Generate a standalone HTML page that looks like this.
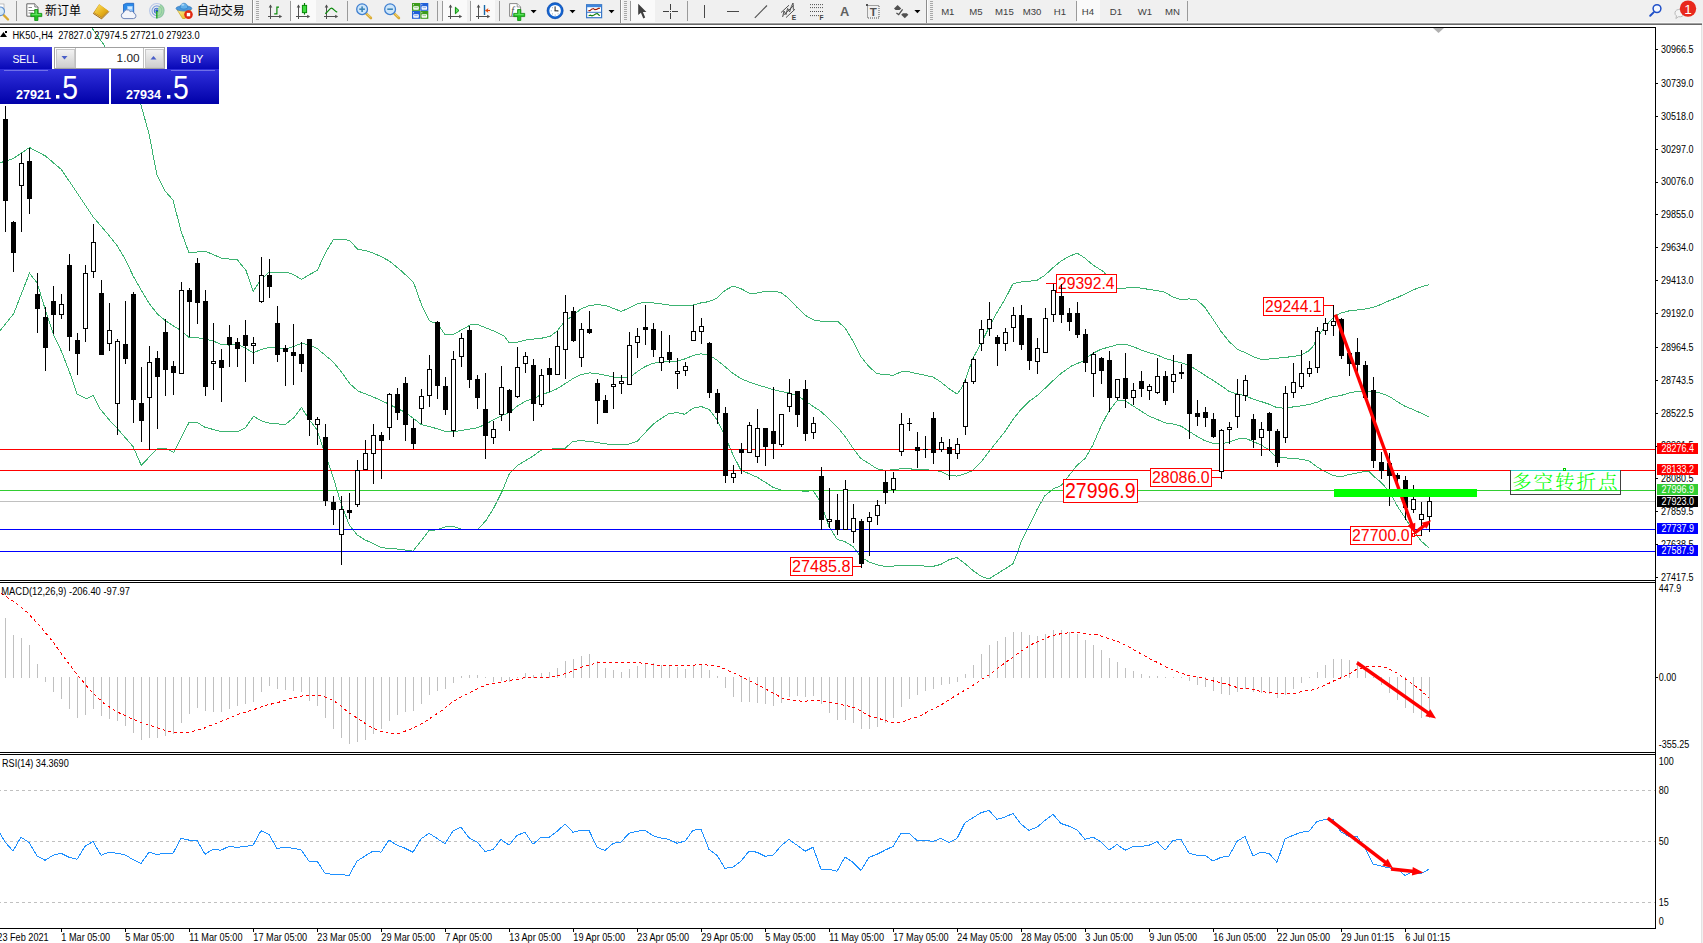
<!DOCTYPE html><html><head><meta charset="utf-8"><title>HK50-,H4</title><style>
html,body{margin:0;padding:0;background:#fff;overflow:hidden}svg{display:block}
text{font-family:"Liberation Sans","Noto Sans CJK SC",sans-serif}
.ax{font-size:10px;fill:#000}.tf{font-size:9.5px;fill:#333}.lb{fill:#f00;font-size:16px}
.cn{font-family:"Liberation Sans","Noto Sans CJK SC",sans-serif;font-size:12px;fill:#000}
</style></head><body>
<svg width="1703" height="943" viewBox="0 0 1703 943">
<defs><linearGradient id="gb" x1="0" y1="0" x2="0" y2="1"><stop offset="0" stop-color="#3c3ce0"/><stop offset="1" stop-color="#0808b8"/></linearGradient>
<linearGradient id="gb2" x1="0" y1="0" x2="0" y2="1"><stop offset="0" stop-color="#3030dc"/><stop offset="1" stop-color="#0000a8"/></linearGradient>
<linearGradient id="gbtn" x1="0" y1="0" x2="0" y2="1"><stop offset="0" stop-color="#f4f4f4"/><stop offset="1" stop-color="#cfcfcf"/></linearGradient>
<radialGradient id="gclk" cx=".4" cy=".35" r=".7"><stop offset="0" stop-color="#6ab0f0"/><stop offset="1" stop-color="#0a4fb0"/></radialGradient>
</defs>
<rect width="1703" height="943" fill="#fff"/>
<g id="toolbar">
<g shape-rendering="crispEdges"><rect x="0" y="0" width="1703" height="22" fill="#f0f0f0"/><rect x="0" y="22" width="1703" height="1" fill="#f8f8f8"/><rect x="0" y="23" width="1703" height="1" fill="#a0a0a0"/><rect x="0" y="24" width="1703" height="1" fill="#696969"/></g>
</g>
<g shape-rendering="crispEdges">
<rect x="0" y="27" width="1656" height="1" fill="#000"/>
<rect x="1655" y="27" width="1" height="902" fill="#000"/>
<rect x="0" y="580" width="1656" height="1" fill="#000"/><rect x="0" y="582" width="1656" height="1" fill="#000"/>
<rect x="0" y="752" width="1656" height="1" fill="#000"/><rect x="0" y="754" width="1656" height="1" fill="#000"/>
<rect x="0" y="928" width="1656" height="1" fill="#000"/>
</g>
<g clip-path="url(#cpm)">
<clipPath id="cpm"><rect x="0" y="28" width="1655" height="552"/></clipPath>
<polyline fill="none" shape-rendering="crispEdges" stroke="#3cb371" stroke-width="1"  points="92,28 104,45 125,80 141,105 149,134 157,175 165,191 173,200 181,231 189,253 197,252 205,251 213,254.5 221,258 229,259 237,259 240,263.3 245.8,269.9 253.2,291.3 261.4,278.9 268.4,272.8 286.9,272.3 291.8,273.7 301.7,279.4 309.1,274.8 317.3,270.4 325.5,252.6 333.4,239.5 345.2,239.5 349.8,240.6 357.6,249.3 365.8,250.5 373.2,253.1 381.4,256.7 389.6,261.2 401.1,270.7 413.5,282.2 421.7,305.2 429.5,320.9 438,324.3 444.8,334.5 453.3,334.5 470.3,325 477.1,324.3 485.5,327.7 494,331.1 504.2,336.2 509.3,343 517.8,342 528,339.6 540.8,338.4 550.2,336.2 557,331.1 565.1,320.9 572.9,315.8 580.7,309 589.2,305.6 597.7,304.6 606.2,305.6 613,308.4 621.5,311.4 628.9,308 637.1,303.9 644.9,302.2 653,302.9 660.8,303.9 669,305 677.1,305.6 684.9,306 693.1,305 700.9,302.9 709,301.6 716.8,298.2 725,290.4 733.1,286 741,288.7 749.1,293.1 756.9,293.1 765.1,291.4 772.9,291 781,292.7 789.2,298.9 797,307.3 805.1,315.1 813,319.8 820.2,321 837.2,321 845,327.8 853.1,341.4 860.9,356.6 869.1,366.8 876.9,373.6 885,374.6 893.2,375.3 901,371.9 909.1,371.9 916.9,373.6 925.1,375.3 932.9,377 941,382.1 949.2,388.9 957,394 961.1,388.9 965.1,380.4 972.9,358.3 981.1,343.1 988.9,327.8 997,312.5 1005.2,298.9 1013,283.7 1021.1,282 1028.9,281.3 1037.1,280.3 1044.9,275.2 1053,267.7 1061.2,260.9 1069,256.5 1077.1,253.1 1085.1,258.2 1092.9,265 1103.8,271.8 1108.9,278.6 1117,288.8 1125.1,288.1 1133,287.1 1141.1,288.1 1148.9,289.4 1157.1,290.5 1164.9,292.2 1173,297.2 1181.2,299.6 1189,298.9 1197.1,300 1204.9,307.4 1213.1,319.3 1220.9,331.2 1229,341.4 1237.2,349.2 1245,352.6 1253.1,356.6 1260.9,359.4 1269.1,359 1276.9,358.3 1285,357.3 1293.2,356.6 1301,355 1309.2,350.6 1313.8,345.4 1316.9,337.7 1324.9,326.9 1333.4,317.4 1340.9,313.1 1348.9,310.9 1356.9,310 1364.9,309.1 1372.9,307.5 1380.9,304.5 1388.9,300.8 1396.9,297.7 1404.9,294 1412.9,290 1420.9,286.9 1428.9,284.8"/>
<polyline fill="none" shape-rendering="crispEdges" stroke="#3cb371" stroke-width="1"  points="0,162.8 13.6,158.4 29.5,147.5 45.5,156 61.4,169.6 77.4,193.3 93.3,217.1 109.3,235.8 117.4,246 125.3,259.5 133.4,276.5 141.2,290.1 149.4,303.7 157.2,313.8 165.3,320.6 173.1,325.7 181.3,330.8 189.4,337.6 197.2,337.6 205.4,339.3 213.2,341 221.3,344.4 229.1,345.1 237.3,344.4 245.1,347.8 253.2,352.9 261,349.5 269.6,347.4 275.8,347.4 285.3,349.4 293.8,346.4 301.6,343.3 310.7,345.4 317.5,348.8 332.8,361.6 341.3,371.8 349.8,383.7 358.3,391.2 371.8,396.3 388.8,404.1 405.8,412.6 421.1,424.4 436.3,428.5 444.8,431.2 453.3,431.9 470.3,428.9 477.1,427.8 485.5,424.4 494,419.4 500.8,416 509.3,412.6 517.8,405.8 526.3,400.7 533.1,399 540.8,394.7 549.2,392.2 557,388.8 565.1,383.7 572.9,378.6 581.1,374.5 589.2,372.9 597,373.5 604.8,375.2 613,376.9 621.1,377.9 628.9,377.9 637.1,371.8 644.9,366.7 653,363.3 660.8,362.3 669,361.6 677.1,361 684.9,358.9 693.1,355.5 700.9,353.8 709,354.9 716.8,360 725,366.7 733.1,373.5 741,378.6 749.1,382 756.9,384.7 765.1,387.1 772.9,389.5 781,391.5 789.2,392.9 797,395.6 805.1,400.7 813,406.3 820.2,411 829,418.8 837.2,426.9 845,436.4 853.1,448.3 860.9,458.5 869.1,463.6 876.9,468.7 885,470.4 893.2,469.7 901,468.7 909.1,468.7 916.9,469.7 925.1,469.7 932.9,470.4 941,471.4 949.2,475.5 957,476.1 965.1,473.8 972.9,470.4 981.1,461.9 988.9,451.7 997,441.5 1005.2,431.3 1013,419.4 1021.1,409.3 1028.9,401.5 1038.5,394.6 1050.6,382.9 1061.2,373.3 1071.8,365.9 1082.4,361.3 1092.9,353.3 1101,349.2 1108.9,347.1 1117,344.8 1125.1,344.1 1133,346.5 1141.1,349.9 1148.9,352.6 1157.1,355 1164.9,358.3 1173,360.7 1181.2,362.8 1189,365.1 1197.1,370.2 1204.9,375.3 1213.1,380.4 1220.9,385.5 1229,391.3 1237.2,394 1245,395.7 1253.1,399.1 1260.9,401.5 1269.1,404.2 1276.9,407.6 1285,408.2 1293.2,406.9 1301,405.9 1308.9,404.5 1316.9,402.3 1324.9,399.2 1332.9,396.8 1340.9,395.5 1348.9,393.1 1356.9,391.5 1364.9,391.5 1372.9,391.5 1380.9,393.1 1388.9,396.2 1396.9,401.4 1404.9,406.3 1412.9,409.4 1420.9,413.1 1428.9,416.8"/>
<polyline fill="none" shape-rendering="crispEdges" stroke="#3cb371" stroke-width="1"  points="0,330.8 13.6,313.8 29.5,273.1 37.3,283.3 45.5,310.5 53.3,334.2 61.4,351.2 70.9,375.8 77,394 86.3,398.7 93.3,395.2 100.3,409.2 111,422 116.7,427.8 133,446.5 141.2,465.2 149.3,457 157.5,448.4 165.7,448.4 173.8,452.3 181,438 189,422.5 197.2,422.5 205.3,427.4 220.5,431.3 238,431.3 245,428.3 253.6,416.2 261.3,420.8 270,423.4 285.3,424.4 293.8,417.7 301.6,407.5 309,419.4 316.8,429.5 325,453.3 333.1,477.1 341.3,504.2 349.1,524.6 356.9,534.8 365,539.9 372.9,543.3 381,547.7 389.1,548.3 397,549 405.1,550 412.9,551.1 421.1,540.9 428.9,530.7 437,529.7 445.2,527 453,526.3 461.1,529 468.9,529.7 477.1,529.7 485.5,521.2 494,507.6 502.5,490.6 509.3,473.7 517.8,465.2 526.3,460.1 533.1,456 541.6,449.9 553.6,448.9 565.1,448.2 572.9,441.4 581.1,440.7 589.2,441.4 597,442.4 604.8,443.8 613,444.5 621.1,444.5 628.9,444.1 637.1,441.4 644.9,432.9 653,424.4 660.8,418.7 669,413.6 677.1,412.6 684.9,414.3 693.1,408.2 700.9,406.5 709,409.2 716.8,419.4 725,436.3 733.1,455 741,470.3 749.1,473.7 756.9,477.1 765.1,482.2 772.9,487.2 781,490 789.2,490.6 797,490.6 805.1,491.3 813.2,490.7 820.9,502.6 829,526.4 837.2,539.6 845,541.6 853.1,546.7 860.9,556.9 869.1,562 876.9,564.7 885,566.4 893.2,566.1 901,565.4 909.1,565.4 916.9,565.4 925.1,566.1 932.9,566.4 941,564.4 949.2,559.6 957,557.6 965.1,563.7 972.9,570.5 981.1,576.3 988.9,579 997,573.9 1005.2,568.8 1013,563.7 1017.1,553.5 1021.1,541.6 1028.9,526.4 1037.1,509.4 1044.9,495.8 1053,489 1061.2,485.6 1069,475.5 1077.1,465.3 1085.1,458.5 1092.9,444.9 1101,426.2 1108.9,411 1117,400.8 1125.1,400.8 1133,405.9 1141.1,411 1148.9,416.1 1157.1,419.4 1164.9,422.8 1173,423.9 1181.2,426.2 1189,431.3 1197.1,436.4 1204.9,440.8 1213.1,443.2 1220.9,443.9 1229,442.2 1237.2,439.1 1245,438.1 1253.1,441.5 1260.9,444.9 1269.1,450 1276.9,457.8 1285,457.8 1293.2,458.5 1301,459.2 1308.9,460.8 1316.9,466.9 1324.9,471.5 1332.9,475.5 1340.9,476.8 1348.9,474.6 1356.9,473.1 1364.9,471.5 1369.2,471.5 1372.9,475.5 1380.9,482.3 1388.9,490.9 1396.9,505.4 1404.9,517.7 1412.9,530 1420.9,540.8 1428.9,547.8"/>
<g shape-rendering="crispEdges">
<rect x="0" y="449" width="1655" height="1" fill="#f00"/>
<rect x="0" y="470" width="1655" height="1" fill="#f00"/>
<rect x="0" y="490" width="1655" height="1" fill="#32cd32"/>
<rect x="0" y="501" width="1655" height="1" fill="#c0c0c0"/>
<rect x="0" y="529" width="1655" height="1" fill="#00f"/>
<rect x="0" y="551" width="1655" height="1" fill="#00f"/>
</g>
<rect x="1056.5" y="274.5" width="60" height="18" fill="#fff" stroke="#f00" stroke-width="1" shape-rendering="crispEdges"/>
<text x="1058" y="288.9" font-size="16.324" fill="#f00" textLength="56.5" lengthAdjust="spacingAndGlyphs">29392.4</text>
<rect x="1046" y="283" width="10" height="1" fill="#f00"/>
<rect x="1263.5" y="297.5" width="60" height="18" fill="#fff" stroke="#f00" stroke-width="1" shape-rendering="crispEdges"/>
<text x="1265" y="311.9" font-size="16.324" fill="#f00" textLength="56.5" lengthAdjust="spacingAndGlyphs">29244.1</text>
<rect x="1323" y="305" width="11" height="1" fill="#f00"/><rect x="1333" y="305" width="1" height="8" fill="#f00"/>
<rect x="1150.5" y="468.5" width="61" height="18" fill="#fff" stroke="#f00" stroke-width="1" shape-rendering="crispEdges"/>
<text x="1152" y="482.9" font-size="16.324" fill="#f00" textLength="57.5" lengthAdjust="spacingAndGlyphs">28086.0</text>
<rect x="1211" y="477" width="10" height="1" fill="#f00"/>
<rect x="1063.5" y="479.5" width="74" height="23" fill="#fff" stroke="#f00" stroke-width="1" shape-rendering="crispEdges"/>
<text x="1065" y="498.3" font-size="21.73" fill="#f00" textLength="70.5" lengthAdjust="spacingAndGlyphs">27996.9</text>
<rect x="790.5" y="557.5" width="62" height="18" fill="#fff" stroke="#f00" stroke-width="1" shape-rendering="crispEdges"/>
<text x="792" y="571.9" font-size="16.324" fill="#f00" textLength="58.5" lengthAdjust="spacingAndGlyphs">27485.8</text>
<rect x="852" y="566" width="9" height="1" fill="#f00"/>
<rect x="1350.5" y="526.5" width="61" height="18" fill="#fff" stroke="#f00" stroke-width="1" shape-rendering="crispEdges"/>
<text x="1352" y="540.9" font-size="16.324" fill="#f00" textLength="57.5" lengthAdjust="spacingAndGlyphs">27700.0</text>
<rect x="1412.5" y="533.5" width="2" height="3" fill="#fff" stroke="#f00" stroke-width="1" shape-rendering="crispEdges"/><rect x="1414" y="535" width="8" height="1" fill="#f00" shape-rendering="crispEdges"/>
<g shape-rendering="crispEdges">
<rect x="5" y="106" width="1" height="126" fill="#000"/>
<rect x="3" y="119" width="5" height="82" fill="#000"/>
<rect x="13" y="221" width="1" height="51" fill="#000"/>
<rect x="11" y="222" width="5" height="31" fill="#000"/>
<rect x="21" y="153" width="1" height="79" fill="#000"/>
<rect x="19" y="163" width="5" height="23" fill="#000"/>
<rect x="20" y="164" width="3" height="21" fill="#fff"/>
<rect x="29" y="148" width="1" height="66" fill="#000"/>
<rect x="27" y="161" width="5" height="38" fill="#000"/>
<rect x="37" y="273" width="1" height="60" fill="#000"/>
<rect x="35" y="294" width="5" height="15" fill="#000"/>
<rect x="45" y="307" width="1" height="64" fill="#000"/>
<rect x="43" y="317" width="5" height="31" fill="#000"/>
<rect x="53" y="286" width="1" height="48" fill="#000"/>
<rect x="51" y="301" width="5" height="14" fill="#000"/>
<rect x="61" y="294" width="1" height="25" fill="#000"/>
<rect x="59" y="304" width="5" height="11" fill="#000"/>
<rect x="60" y="305" width="3" height="9" fill="#fff"/>
<rect x="69" y="254" width="1" height="97" fill="#000"/>
<rect x="67" y="265" width="5" height="72" fill="#000"/>
<rect x="77" y="333" width="1" height="42" fill="#000"/>
<rect x="75" y="340" width="5" height="14" fill="#000"/>
<rect x="85" y="265" width="1" height="77" fill="#000"/>
<rect x="83" y="273" width="5" height="56" fill="#000"/>
<rect x="84" y="274" width="3" height="54" fill="#fff"/>
<rect x="93" y="224" width="1" height="54" fill="#000"/>
<rect x="91" y="242" width="5" height="30" fill="#000"/>
<rect x="92" y="243" width="3" height="28" fill="#fff"/>
<rect x="101" y="280" width="1" height="75" fill="#000"/>
<rect x="99" y="293" width="5" height="62" fill="#000"/>
<rect x="109" y="303" width="1" height="48" fill="#000"/>
<rect x="107" y="330" width="5" height="14" fill="#000"/>
<rect x="108" y="331" width="3" height="12" fill="#fff"/>
<rect x="117" y="339" width="1" height="96" fill="#000"/>
<rect x="115" y="341" width="5" height="63" fill="#000"/>
<rect x="116" y="342" width="3" height="61" fill="#fff"/>
<rect x="125" y="301" width="1" height="63" fill="#000"/>
<rect x="123" y="344" width="5" height="15" fill="#000"/>
<rect x="133" y="292" width="1" height="131" fill="#000"/>
<rect x="131" y="294" width="5" height="106" fill="#000"/>
<rect x="141" y="367" width="1" height="75" fill="#000"/>
<rect x="139" y="403" width="5" height="18" fill="#000"/>
<rect x="149" y="346" width="1" height="104" fill="#000"/>
<rect x="147" y="362" width="5" height="36" fill="#000"/>
<rect x="148" y="363" width="3" height="34" fill="#fff"/>
<rect x="157" y="351" width="1" height="78" fill="#000"/>
<rect x="155" y="358" width="5" height="19" fill="#000"/>
<rect x="165" y="319" width="1" height="77" fill="#000"/>
<rect x="163" y="332" width="5" height="38" fill="#000"/>
<rect x="173" y="361" width="1" height="34" fill="#000"/>
<rect x="171" y="366" width="5" height="7" fill="#000"/>
<rect x="181" y="282" width="1" height="92" fill="#000"/>
<rect x="179" y="290" width="5" height="84" fill="#000"/>
<rect x="180" y="291" width="3" height="82" fill="#fff"/>
<rect x="189" y="288" width="1" height="49" fill="#000"/>
<rect x="187" y="290" width="5" height="12" fill="#000"/>
<rect x="197" y="258" width="1" height="66" fill="#000"/>
<rect x="195" y="263" width="5" height="40" fill="#000"/>
<rect x="205" y="290" width="1" height="106" fill="#000"/>
<rect x="203" y="301" width="5" height="86" fill="#000"/>
<rect x="213" y="323" width="1" height="67" fill="#000"/>
<rect x="211" y="361" width="5" height="3" fill="#000"/>
<rect x="212" y="362" width="3" height="1" fill="#fff"/>
<rect x="221" y="349" width="1" height="53" fill="#000"/>
<rect x="219" y="360" width="5" height="8" fill="#000"/>
<rect x="229" y="325" width="1" height="42" fill="#000"/>
<rect x="227" y="337" width="5" height="8" fill="#000"/>
<rect x="237" y="338" width="1" height="29" fill="#000"/>
<rect x="235" y="342" width="5" height="7" fill="#000"/>
<rect x="245" y="320" width="1" height="62" fill="#000"/>
<rect x="243" y="335" width="5" height="11" fill="#000"/>
<rect x="253" y="337" width="1" height="27" fill="#000"/>
<rect x="251" y="343" width="5" height="3" fill="#000"/>
<rect x="252" y="344" width="3" height="1" fill="#fff"/>
<rect x="261" y="257" width="1" height="46" fill="#000"/>
<rect x="259" y="275" width="5" height="27" fill="#000"/>
<rect x="260" y="276" width="3" height="25" fill="#fff"/>
<rect x="269" y="259" width="1" height="39" fill="#000"/>
<rect x="267" y="275" width="5" height="12" fill="#000"/>
<rect x="277" y="306" width="1" height="56" fill="#000"/>
<rect x="275" y="323" width="5" height="32" fill="#000"/>
<rect x="285" y="345" width="1" height="41" fill="#000"/>
<rect x="283" y="348" width="5" height="4" fill="#000"/>
<rect x="293" y="324" width="1" height="61" fill="#000"/>
<rect x="291" y="352" width="5" height="4" fill="#000"/>
<rect x="301" y="342" width="1" height="30" fill="#000"/>
<rect x="299" y="354" width="5" height="10" fill="#000"/>
<rect x="309" y="339" width="1" height="97" fill="#000"/>
<rect x="307" y="339" width="5" height="81" fill="#000"/>
<rect x="317" y="417" width="1" height="28" fill="#000"/>
<rect x="315" y="419" width="5" height="6" fill="#000"/>
<rect x="316" y="420" width="3" height="4" fill="#fff"/>
<rect x="325" y="424" width="1" height="82" fill="#000"/>
<rect x="323" y="437" width="5" height="64" fill="#000"/>
<rect x="333" y="496" width="1" height="29" fill="#000"/>
<rect x="331" y="502" width="5" height="8" fill="#000"/>
<rect x="341" y="496" width="1" height="69" fill="#000"/>
<rect x="339" y="509" width="5" height="26" fill="#000"/>
<rect x="340" y="510" width="3" height="24" fill="#fff"/>
<rect x="349" y="493" width="1" height="26" fill="#000"/>
<rect x="347" y="510" width="5" height="3" fill="#000"/>
<rect x="357" y="460" width="1" height="47" fill="#000"/>
<rect x="355" y="470" width="5" height="35" fill="#000"/>
<rect x="356" y="471" width="3" height="33" fill="#fff"/>
<rect x="365" y="440" width="1" height="30" fill="#000"/>
<rect x="363" y="453" width="5" height="17" fill="#000"/>
<rect x="364" y="454" width="3" height="15" fill="#fff"/>
<rect x="373" y="424" width="1" height="60" fill="#000"/>
<rect x="371" y="435" width="5" height="19" fill="#000"/>
<rect x="372" y="436" width="3" height="17" fill="#fff"/>
<rect x="381" y="432" width="1" height="47" fill="#000"/>
<rect x="379" y="435" width="5" height="6" fill="#000"/>
<rect x="389" y="393" width="1" height="47" fill="#000"/>
<rect x="387" y="394" width="5" height="34" fill="#000"/>
<rect x="388" y="395" width="3" height="32" fill="#fff"/>
<rect x="397" y="388" width="1" height="32" fill="#000"/>
<rect x="395" y="394" width="5" height="19" fill="#000"/>
<rect x="405" y="377" width="1" height="64" fill="#000"/>
<rect x="403" y="383" width="5" height="42" fill="#000"/>
<rect x="413" y="419" width="1" height="30" fill="#000"/>
<rect x="411" y="428" width="5" height="16" fill="#000"/>
<rect x="421" y="389" width="1" height="35" fill="#000"/>
<rect x="419" y="396" width="5" height="13" fill="#000"/>
<rect x="420" y="397" width="3" height="11" fill="#fff"/>
<rect x="429" y="355" width="1" height="52" fill="#000"/>
<rect x="427" y="369" width="5" height="27" fill="#000"/>
<rect x="428" y="370" width="3" height="25" fill="#fff"/>
<rect x="437" y="321" width="1" height="78" fill="#000"/>
<rect x="435" y="322" width="5" height="64" fill="#000"/>
<rect x="445" y="377" width="1" height="38" fill="#000"/>
<rect x="443" y="386" width="5" height="24" fill="#000"/>
<rect x="453" y="351" width="1" height="86" fill="#000"/>
<rect x="451" y="359" width="5" height="72" fill="#000"/>
<rect x="452" y="360" width="3" height="70" fill="#fff"/>
<rect x="461" y="333" width="1" height="34" fill="#000"/>
<rect x="459" y="338" width="5" height="19" fill="#000"/>
<rect x="460" y="339" width="3" height="17" fill="#fff"/>
<rect x="469" y="326" width="1" height="62" fill="#000"/>
<rect x="467" y="330" width="5" height="50" fill="#000"/>
<rect x="477" y="375" width="1" height="34" fill="#000"/>
<rect x="475" y="379" width="5" height="19" fill="#000"/>
<rect x="485" y="373" width="1" height="86" fill="#000"/>
<rect x="483" y="409" width="5" height="27" fill="#000"/>
<rect x="493" y="421" width="1" height="23" fill="#000"/>
<rect x="491" y="429" width="5" height="9" fill="#000"/>
<rect x="492" y="430" width="3" height="7" fill="#fff"/>
<rect x="501" y="366" width="1" height="55" fill="#000"/>
<rect x="499" y="387" width="5" height="28" fill="#000"/>
<rect x="500" y="388" width="3" height="26" fill="#fff"/>
<rect x="509" y="389" width="1" height="42" fill="#000"/>
<rect x="507" y="390" width="5" height="23" fill="#000"/>
<rect x="517" y="347" width="1" height="51" fill="#000"/>
<rect x="515" y="367" width="5" height="30" fill="#000"/>
<rect x="516" y="368" width="3" height="28" fill="#fff"/>
<rect x="525" y="352" width="1" height="21" fill="#000"/>
<rect x="523" y="356" width="5" height="8" fill="#000"/>
<rect x="524" y="357" width="3" height="6" fill="#fff"/>
<rect x="533" y="359" width="1" height="62" fill="#000"/>
<rect x="531" y="365" width="5" height="39" fill="#000"/>
<rect x="541" y="369" width="1" height="38" fill="#000"/>
<rect x="539" y="375" width="5" height="30" fill="#000"/>
<rect x="540" y="376" width="3" height="28" fill="#fff"/>
<rect x="549" y="358" width="1" height="34" fill="#000"/>
<rect x="547" y="368" width="5" height="7" fill="#000"/>
<rect x="557" y="331" width="1" height="44" fill="#000"/>
<rect x="555" y="346" width="5" height="29" fill="#000"/>
<rect x="556" y="347" width="3" height="27" fill="#fff"/>
<rect x="565" y="295" width="1" height="84" fill="#000"/>
<rect x="563" y="312" width="5" height="38" fill="#000"/>
<rect x="564" y="313" width="3" height="36" fill="#fff"/>
<rect x="573" y="307" width="1" height="35" fill="#000"/>
<rect x="571" y="311" width="5" height="30" fill="#000"/>
<rect x="581" y="323" width="1" height="44" fill="#000"/>
<rect x="579" y="329" width="5" height="29" fill="#000"/>
<rect x="580" y="330" width="3" height="27" fill="#fff"/>
<rect x="589" y="311" width="1" height="23" fill="#000"/>
<rect x="587" y="329" width="5" height="4" fill="#000"/>
<rect x="597" y="379" width="1" height="45" fill="#000"/>
<rect x="595" y="383" width="5" height="18" fill="#000"/>
<rect x="605" y="395" width="1" height="18" fill="#000"/>
<rect x="603" y="400" width="5" height="13" fill="#000"/>
<rect x="613" y="372" width="1" height="37" fill="#000"/>
<rect x="611" y="384" width="5" height="3" fill="#000"/>
<rect x="612" y="385" width="3" height="1" fill="#fff"/>
<rect x="621" y="375" width="1" height="19" fill="#000"/>
<rect x="619" y="381" width="5" height="3" fill="#000"/>
<rect x="620" y="382" width="3" height="1" fill="#fff"/>
<rect x="629" y="332" width="1" height="53" fill="#000"/>
<rect x="627" y="345" width="5" height="40" fill="#000"/>
<rect x="628" y="346" width="3" height="38" fill="#fff"/>
<rect x="637" y="328" width="1" height="30" fill="#000"/>
<rect x="635" y="336" width="5" height="7" fill="#000"/>
<rect x="636" y="337" width="3" height="5" fill="#fff"/>
<rect x="645" y="305" width="1" height="40" fill="#000"/>
<rect x="643" y="327" width="5" height="3" fill="#000"/>
<rect x="653" y="323" width="1" height="34" fill="#000"/>
<rect x="651" y="329" width="5" height="21" fill="#000"/>
<rect x="661" y="331" width="1" height="40" fill="#000"/>
<rect x="659" y="357" width="5" height="6" fill="#000"/>
<rect x="660" y="358" width="3" height="4" fill="#fff"/>
<rect x="669" y="335" width="1" height="28" fill="#000"/>
<rect x="667" y="352" width="5" height="8" fill="#000"/>
<rect x="677" y="358" width="1" height="31" fill="#000"/>
<rect x="675" y="371" width="5" height="3" fill="#000"/>
<rect x="676" y="372" width="3" height="1" fill="#fff"/>
<rect x="685" y="362" width="1" height="14" fill="#000"/>
<rect x="683" y="366" width="5" height="5" fill="#000"/>
<rect x="684" y="367" width="3" height="3" fill="#fff"/>
<rect x="693" y="305" width="1" height="36" fill="#000"/>
<rect x="691" y="331" width="5" height="10" fill="#000"/>
<rect x="692" y="332" width="3" height="8" fill="#fff"/>
<rect x="701" y="318" width="1" height="26" fill="#000"/>
<rect x="699" y="326" width="5" height="6" fill="#000"/>
<rect x="700" y="327" width="3" height="4" fill="#fff"/>
<rect x="709" y="342" width="1" height="56" fill="#000"/>
<rect x="707" y="343" width="5" height="50" fill="#000"/>
<rect x="717" y="389" width="1" height="35" fill="#000"/>
<rect x="715" y="393" width="5" height="20" fill="#000"/>
<rect x="725" y="407" width="1" height="76" fill="#000"/>
<rect x="723" y="413" width="5" height="63" fill="#000"/>
<rect x="733" y="465" width="1" height="18" fill="#000"/>
<rect x="731" y="473" width="5" height="5" fill="#000"/>
<rect x="732" y="474" width="3" height="3" fill="#fff"/>
<rect x="741" y="443" width="1" height="31" fill="#000"/>
<rect x="739" y="449" width="5" height="4" fill="#000"/>
<rect x="749" y="422" width="1" height="31" fill="#000"/>
<rect x="747" y="425" width="5" height="28" fill="#000"/>
<rect x="748" y="426" width="3" height="26" fill="#fff"/>
<rect x="757" y="409" width="1" height="54" fill="#000"/>
<rect x="755" y="428" width="5" height="29" fill="#000"/>
<rect x="756" y="429" width="3" height="27" fill="#fff"/>
<rect x="765" y="428" width="1" height="38" fill="#000"/>
<rect x="763" y="428" width="5" height="19" fill="#000"/>
<rect x="773" y="387" width="1" height="72" fill="#000"/>
<rect x="771" y="431" width="5" height="13" fill="#000"/>
<rect x="781" y="414" width="1" height="33" fill="#000"/>
<rect x="779" y="414" width="5" height="31" fill="#000"/>
<rect x="780" y="415" width="3" height="29" fill="#fff"/>
<rect x="789" y="379" width="1" height="33" fill="#000"/>
<rect x="787" y="393" width="5" height="14" fill="#000"/>
<rect x="788" y="394" width="3" height="12" fill="#fff"/>
<rect x="797" y="391" width="1" height="36" fill="#000"/>
<rect x="795" y="391" width="5" height="24" fill="#000"/>
<rect x="805" y="380" width="1" height="61" fill="#000"/>
<rect x="803" y="389" width="5" height="45" fill="#000"/>
<rect x="813" y="417" width="1" height="22" fill="#000"/>
<rect x="811" y="423" width="5" height="10" fill="#000"/>
<rect x="812" y="424" width="3" height="8" fill="#fff"/>
<rect x="821" y="467" width="1" height="63" fill="#000"/>
<rect x="819" y="476" width="5" height="44" fill="#000"/>
<rect x="829" y="488" width="1" height="40" fill="#000"/>
<rect x="827" y="519" width="5" height="3" fill="#000"/>
<rect x="828" y="520" width="3" height="1" fill="#fff"/>
<rect x="837" y="494" width="1" height="41" fill="#000"/>
<rect x="835" y="520" width="5" height="10" fill="#000"/>
<rect x="845" y="480" width="1" height="50" fill="#000"/>
<rect x="843" y="489" width="5" height="41" fill="#000"/>
<rect x="844" y="490" width="3" height="39" fill="#fff"/>
<rect x="853" y="504" width="1" height="39" fill="#000"/>
<rect x="851" y="518" width="5" height="14" fill="#000"/>
<rect x="852" y="519" width="3" height="12" fill="#fff"/>
<rect x="861" y="519" width="1" height="49" fill="#000"/>
<rect x="859" y="521" width="5" height="43" fill="#000"/>
<rect x="869" y="512" width="1" height="44" fill="#000"/>
<rect x="867" y="517" width="5" height="5" fill="#000"/>
<rect x="868" y="518" width="3" height="3" fill="#fff"/>
<rect x="877" y="500" width="1" height="25" fill="#000"/>
<rect x="875" y="505" width="5" height="11" fill="#000"/>
<rect x="876" y="506" width="3" height="9" fill="#fff"/>
<rect x="885" y="471" width="1" height="33" fill="#000"/>
<rect x="883" y="482" width="5" height="11" fill="#000"/>
<rect x="893" y="472" width="1" height="21" fill="#000"/>
<rect x="891" y="478" width="5" height="12" fill="#000"/>
<rect x="892" y="479" width="3" height="10" fill="#fff"/>
<rect x="901" y="413" width="1" height="43" fill="#000"/>
<rect x="899" y="424" width="5" height="28" fill="#000"/>
<rect x="900" y="425" width="3" height="26" fill="#fff"/>
<rect x="909" y="418" width="1" height="13" fill="#000"/>
<rect x="907" y="423" width="5" height="1" fill="#000"/>
<rect x="917" y="432" width="1" height="36" fill="#000"/>
<rect x="915" y="447" width="5" height="4" fill="#000"/>
<rect x="925" y="436" width="1" height="22" fill="#000"/>
<rect x="923" y="449" width="5" height="1" fill="#000"/>
<rect x="933" y="412" width="1" height="52" fill="#000"/>
<rect x="931" y="418" width="5" height="35" fill="#000"/>
<rect x="941" y="437" width="1" height="15" fill="#000"/>
<rect x="939" y="442" width="5" height="8" fill="#000"/>
<rect x="940" y="443" width="3" height="6" fill="#fff"/>
<rect x="949" y="439" width="1" height="41" fill="#000"/>
<rect x="947" y="447" width="5" height="7" fill="#000"/>
<rect x="957" y="438" width="1" height="21" fill="#000"/>
<rect x="955" y="444" width="5" height="10" fill="#000"/>
<rect x="956" y="445" width="3" height="8" fill="#fff"/>
<rect x="965" y="379" width="1" height="56" fill="#000"/>
<rect x="963" y="382" width="5" height="45" fill="#000"/>
<rect x="964" y="383" width="3" height="43" fill="#fff"/>
<rect x="973" y="357" width="1" height="27" fill="#000"/>
<rect x="971" y="359" width="5" height="23" fill="#000"/>
<rect x="972" y="360" width="3" height="21" fill="#fff"/>
<rect x="981" y="320" width="1" height="31" fill="#000"/>
<rect x="979" y="329" width="5" height="15" fill="#000"/>
<rect x="980" y="330" width="3" height="13" fill="#fff"/>
<rect x="989" y="302" width="1" height="34" fill="#000"/>
<rect x="987" y="319" width="5" height="10" fill="#000"/>
<rect x="988" y="320" width="3" height="8" fill="#fff"/>
<rect x="997" y="335" width="1" height="31" fill="#000"/>
<rect x="995" y="337" width="5" height="7" fill="#000"/>
<rect x="1005" y="328" width="1" height="23" fill="#000"/>
<rect x="1003" y="332" width="5" height="12" fill="#000"/>
<rect x="1004" y="333" width="3" height="10" fill="#fff"/>
<rect x="1013" y="307" width="1" height="35" fill="#000"/>
<rect x="1011" y="315" width="5" height="13" fill="#000"/>
<rect x="1012" y="316" width="3" height="11" fill="#fff"/>
<rect x="1021" y="305" width="1" height="45" fill="#000"/>
<rect x="1019" y="315" width="5" height="30" fill="#000"/>
<rect x="1029" y="318" width="1" height="52" fill="#000"/>
<rect x="1027" y="318" width="5" height="43" fill="#000"/>
<rect x="1037" y="338" width="1" height="36" fill="#000"/>
<rect x="1035" y="348" width="5" height="14" fill="#000"/>
<rect x="1036" y="349" width="3" height="12" fill="#fff"/>
<rect x="1045" y="308" width="1" height="45" fill="#000"/>
<rect x="1043" y="318" width="5" height="35" fill="#000"/>
<rect x="1044" y="319" width="3" height="33" fill="#fff"/>
<rect x="1053" y="284" width="1" height="38" fill="#000"/>
<rect x="1051" y="290" width="5" height="25" fill="#000"/>
<rect x="1052" y="291" width="3" height="23" fill="#fff"/>
<rect x="1061" y="284" width="1" height="39" fill="#000"/>
<rect x="1059" y="296" width="5" height="19" fill="#000"/>
<rect x="1069" y="308" width="1" height="23" fill="#000"/>
<rect x="1067" y="313" width="5" height="9" fill="#000"/>
<rect x="1077" y="302" width="1" height="36" fill="#000"/>
<rect x="1075" y="313" width="5" height="22" fill="#000"/>
<rect x="1085" y="329" width="1" height="43" fill="#000"/>
<rect x="1083" y="334" width="5" height="29" fill="#000"/>
<rect x="1093" y="352" width="1" height="45" fill="#000"/>
<rect x="1091" y="354" width="5" height="20" fill="#000"/>
<rect x="1092" y="355" width="3" height="18" fill="#fff"/>
<rect x="1101" y="357" width="1" height="27" fill="#000"/>
<rect x="1099" y="358" width="5" height="13" fill="#000"/>
<rect x="1109" y="351" width="1" height="61" fill="#000"/>
<rect x="1107" y="360" width="5" height="38" fill="#000"/>
<rect x="1117" y="379" width="1" height="21" fill="#000"/>
<rect x="1115" y="379" width="5" height="19" fill="#000"/>
<rect x="1116" y="380" width="3" height="17" fill="#fff"/>
<rect x="1125" y="353" width="1" height="55" fill="#000"/>
<rect x="1123" y="378" width="5" height="21" fill="#000"/>
<rect x="1133" y="383" width="1" height="22" fill="#000"/>
<rect x="1131" y="390" width="5" height="8" fill="#000"/>
<rect x="1132" y="391" width="3" height="6" fill="#fff"/>
<rect x="1141" y="371" width="1" height="26" fill="#000"/>
<rect x="1139" y="381" width="5" height="8" fill="#000"/>
<rect x="1149" y="384" width="1" height="16" fill="#000"/>
<rect x="1147" y="386" width="5" height="5" fill="#000"/>
<rect x="1148" y="387" width="3" height="3" fill="#fff"/>
<rect x="1157" y="358" width="1" height="36" fill="#000"/>
<rect x="1155" y="376" width="5" height="17" fill="#000"/>
<rect x="1156" y="377" width="3" height="15" fill="#fff"/>
<rect x="1165" y="371" width="1" height="34" fill="#000"/>
<rect x="1163" y="376" width="5" height="25" fill="#000"/>
<rect x="1173" y="355" width="1" height="38" fill="#000"/>
<rect x="1171" y="374" width="5" height="8" fill="#000"/>
<rect x="1172" y="375" width="3" height="6" fill="#fff"/>
<rect x="1181" y="364" width="1" height="15" fill="#000"/>
<rect x="1179" y="372" width="5" height="2" fill="#000"/>
<rect x="1189" y="354" width="1" height="85" fill="#000"/>
<rect x="1187" y="354" width="5" height="60" fill="#000"/>
<rect x="1197" y="400" width="1" height="26" fill="#000"/>
<rect x="1195" y="413" width="5" height="4" fill="#000"/>
<rect x="1205" y="407" width="1" height="20" fill="#000"/>
<rect x="1203" y="412" width="5" height="6" fill="#000"/>
<rect x="1213" y="413" width="1" height="25" fill="#000"/>
<rect x="1211" y="419" width="5" height="18" fill="#000"/>
<rect x="1221" y="429" width="1" height="50" fill="#000"/>
<rect x="1219" y="430" width="5" height="42" fill="#000"/>
<rect x="1220" y="431" width="3" height="40" fill="#fff"/>
<rect x="1229" y="422" width="1" height="22" fill="#000"/>
<rect x="1227" y="427" width="5" height="3" fill="#000"/>
<rect x="1228" y="428" width="3" height="1" fill="#fff"/>
<rect x="1237" y="379" width="1" height="49" fill="#000"/>
<rect x="1235" y="394" width="5" height="23" fill="#000"/>
<rect x="1236" y="395" width="3" height="21" fill="#fff"/>
<rect x="1245" y="375" width="1" height="26" fill="#000"/>
<rect x="1243" y="380" width="5" height="16" fill="#000"/>
<rect x="1244" y="381" width="3" height="14" fill="#fff"/>
<rect x="1253" y="414" width="1" height="34" fill="#000"/>
<rect x="1251" y="419" width="5" height="21" fill="#000"/>
<rect x="1261" y="422" width="1" height="34" fill="#000"/>
<rect x="1259" y="429" width="5" height="9" fill="#000"/>
<rect x="1260" y="430" width="3" height="7" fill="#fff"/>
<rect x="1269" y="412" width="1" height="39" fill="#000"/>
<rect x="1267" y="413" width="5" height="18" fill="#000"/>
<rect x="1277" y="429" width="1" height="38" fill="#000"/>
<rect x="1275" y="431" width="5" height="32" fill="#000"/>
<rect x="1285" y="386" width="1" height="57" fill="#000"/>
<rect x="1283" y="393" width="5" height="45" fill="#000"/>
<rect x="1284" y="394" width="3" height="43" fill="#fff"/>
<rect x="1293" y="363" width="1" height="35" fill="#000"/>
<rect x="1291" y="382" width="5" height="11" fill="#000"/>
<rect x="1292" y="383" width="3" height="9" fill="#fff"/>
<rect x="1301" y="350" width="1" height="39" fill="#000"/>
<rect x="1299" y="373" width="5" height="14" fill="#000"/>
<rect x="1300" y="374" width="3" height="12" fill="#fff"/>
<rect x="1309" y="361" width="1" height="16" fill="#000"/>
<rect x="1307" y="368" width="5" height="6" fill="#000"/>
<rect x="1308" y="369" width="3" height="4" fill="#fff"/>
<rect x="1317" y="327" width="1" height="46" fill="#000"/>
<rect x="1315" y="331" width="5" height="37" fill="#000"/>
<rect x="1316" y="332" width="3" height="35" fill="#fff"/>
<rect x="1325" y="318" width="1" height="17" fill="#000"/>
<rect x="1323" y="323" width="5" height="8" fill="#000"/>
<rect x="1324" y="324" width="3" height="6" fill="#fff"/>
<rect x="1333" y="305" width="1" height="31" fill="#000"/>
<rect x="1331" y="321" width="5" height="5" fill="#000"/>
<rect x="1332" y="322" width="3" height="3" fill="#fff"/>
<rect x="1341" y="318" width="1" height="41" fill="#000"/>
<rect x="1339" y="319" width="5" height="37" fill="#000"/>
<rect x="1349" y="351" width="1" height="25" fill="#000"/>
<rect x="1347" y="353" width="5" height="11" fill="#000"/>
<rect x="1357" y="338" width="1" height="34" fill="#000"/>
<rect x="1355" y="352" width="5" height="13" fill="#000"/>
<rect x="1365" y="361" width="1" height="38" fill="#000"/>
<rect x="1363" y="365" width="5" height="33" fill="#000"/>
<rect x="1373" y="377" width="1" height="91" fill="#000"/>
<rect x="1371" y="390" width="5" height="71" fill="#000"/>
<rect x="1381" y="452" width="1" height="27" fill="#000"/>
<rect x="1379" y="462" width="5" height="9" fill="#000"/>
<rect x="1389" y="453" width="1" height="53" fill="#000"/>
<rect x="1387" y="463" width="5" height="13" fill="#000"/>
<rect x="1397" y="473" width="1" height="12" fill="#000"/>
<rect x="1395" y="475" width="5" height="4" fill="#000"/>
<rect x="1405" y="476" width="1" height="44" fill="#000"/>
<rect x="1403" y="480" width="5" height="28" fill="#000"/>
<rect x="1413" y="485" width="1" height="28" fill="#000"/>
<rect x="1411" y="499" width="5" height="11" fill="#000"/>
<rect x="1412" y="500" width="3" height="9" fill="#fff"/>
<rect x="1421" y="502" width="1" height="34" fill="#000"/>
<rect x="1419" y="514" width="5" height="6" fill="#000"/>
<rect x="1420" y="515" width="3" height="4" fill="#fff"/>
<rect x="1429" y="497" width="1" height="35" fill="#000"/>
<rect x="1427" y="501" width="5" height="16" fill="#000"/>
<rect x="1428" y="502" width="3" height="14" fill="#fff"/>
</g>
</g>
<polygon points="1433,28 1444,28 1438.5,33" fill="#b0b0b0"/>
<rect x="1334" y="489" width="143" height="8" fill="#00ff00" shape-rendering="crispEdges"/>
<rect x="1510.5" y="470.5" width="110" height="24" fill="#fff" stroke="#404040" stroke-width="1" shape-rendering="crispEdges"/>
<rect x="1511" y="470" width="109" height="1" fill="#30d0d0" shape-rendering="crispEdges"/>
<rect x="1511" y="490" width="109" height="1" fill="#32cd32" shape-rendering="crispEdges"/>
<rect x="1563.5" y="468.5" width="2" height="2" fill="#fff" stroke="#0c0" stroke-width="1" shape-rendering="crispEdges"/>
<text x="1512" y="488.6" font-size="19.6" font-weight="300" fill="#0f0" style="font-family:'Noto Serif CJK SC','Noto Sans CJK SC',serif" textLength="105.5" lengthAdjust="spacing">多空转折点</text>
<g shape-rendering="crispEdges">
<rect x="1656" y="49" width="2" height="1" fill="#000" shape-rendering="crispEdges"/>
<rect x="1656" y="83" width="2" height="1" fill="#000" shape-rendering="crispEdges"/>
<rect x="1656" y="116" width="2" height="1" fill="#000" shape-rendering="crispEdges"/>
<rect x="1656" y="149" width="2" height="1" fill="#000" shape-rendering="crispEdges"/>
<rect x="1656" y="182" width="2" height="1" fill="#000" shape-rendering="crispEdges"/>
<rect x="1656" y="214" width="2" height="1" fill="#000" shape-rendering="crispEdges"/>
<rect x="1656" y="247" width="2" height="1" fill="#000" shape-rendering="crispEdges"/>
<rect x="1656" y="280" width="2" height="1" fill="#000" shape-rendering="crispEdges"/>
<rect x="1656" y="313" width="2" height="1" fill="#000" shape-rendering="crispEdges"/>
<rect x="1656" y="347" width="2" height="1" fill="#000" shape-rendering="crispEdges"/>
<rect x="1656" y="380" width="2" height="1" fill="#000" shape-rendering="crispEdges"/>
<rect x="1656" y="413" width="2" height="1" fill="#000" shape-rendering="crispEdges"/>
<rect x="1656" y="446" width="2" height="1" fill="#000" shape-rendering="crispEdges"/>
<rect x="1656" y="478" width="2" height="1" fill="#000" shape-rendering="crispEdges"/>
<rect x="1656" y="511" width="2" height="1" fill="#000" shape-rendering="crispEdges"/>
<rect x="1656" y="544" width="2" height="1" fill="#000" shape-rendering="crispEdges"/>
<rect x="1656" y="577" width="2" height="1" fill="#000" shape-rendering="crispEdges"/>
</g>
<text class="ax" transform="translate(1661,53) scale(.9,1)">30966.5</text>
<text class="ax" transform="translate(1661,87) scale(.9,1)">30739.0</text>
<text class="ax" transform="translate(1661,120) scale(.9,1)">30518.0</text>
<text class="ax" transform="translate(1661,153) scale(.9,1)">30297.0</text>
<text class="ax" transform="translate(1661,185) scale(.9,1)">30076.0</text>
<text class="ax" transform="translate(1661,218) scale(.9,1)">29855.0</text>
<text class="ax" transform="translate(1661,251) scale(.9,1)">29634.0</text>
<text class="ax" transform="translate(1661,284) scale(.9,1)">29413.0</text>
<text class="ax" transform="translate(1661,317) scale(.9,1)">29192.0</text>
<text class="ax" transform="translate(1661,351) scale(.9,1)">28964.5</text>
<text class="ax" transform="translate(1661,384) scale(.9,1)">28743.5</text>
<text class="ax" transform="translate(1661,417) scale(.9,1)">28522.5</text>
<text class="ax" transform="translate(1661,449) scale(.9,1)">28301.5</text>
<text class="ax" transform="translate(1661,482) scale(.9,1)">28080.5</text>
<text class="ax" transform="translate(1661,515) scale(.9,1)">27859.5</text>
<text class="ax" transform="translate(1661,548) scale(.9,1)">27638.5</text>
<text class="ax" transform="translate(1661,581) scale(.9,1)">27417.5</text>
<rect x="1657" y="443" width="41" height="11" fill="#f00" shape-rendering="crispEdges"/>
<text class="ax" transform="translate(1661.5,452) scale(.9,1)" style="fill:#fff">28276.4</text>
<rect x="1657" y="464" width="41" height="11" fill="#f00" shape-rendering="crispEdges"/>
<text class="ax" transform="translate(1661.5,473) scale(.9,1)" style="fill:#fff">28133.2</text>
<rect x="1657" y="484" width="41" height="11" fill="#32cd32" shape-rendering="crispEdges"/>
<text class="ax" transform="translate(1661.5,493) scale(.9,1)" style="fill:#fff">27996.9</text>
<rect x="1657" y="496" width="41" height="11" fill="#000" shape-rendering="crispEdges"/>
<text class="ax" transform="translate(1661.5,505) scale(.9,1)" style="fill:#fff">27923.0</text>
<rect x="1657" y="523" width="41" height="11" fill="#00f" shape-rendering="crispEdges"/>
<text class="ax" transform="translate(1661.5,532) scale(.9,1)" style="fill:#fff">27737.9</text>
<rect x="1657" y="545" width="41" height="11" fill="#00f" shape-rendering="crispEdges"/>
<text class="ax" transform="translate(1661.5,554) scale(.9,1)" style="fill:#fff">27587.9</text>
<g shape-rendering="crispEdges">
<rect x="5" y="618" width="1" height="60" fill="#c0c0c0"/>
<rect x="13" y="635" width="1" height="43" fill="#c0c0c0"/>
<rect x="21" y="638" width="1" height="40" fill="#c0c0c0"/>
<rect x="29" y="645" width="1" height="33" fill="#c0c0c0"/>
<rect x="37" y="664" width="1" height="14" fill="#c0c0c0"/>
<rect x="45" y="677" width="1" height="5" fill="#c0c0c0"/>
<rect x="53" y="677" width="1" height="15" fill="#c0c0c0"/>
<rect x="61" y="677" width="1" height="22" fill="#c0c0c0"/>
<rect x="69" y="677" width="1" height="32" fill="#c0c0c0"/>
<rect x="77" y="677" width="1" height="41" fill="#c0c0c0"/>
<rect x="85" y="677" width="1" height="38" fill="#c0c0c0"/>
<rect x="93" y="677" width="1" height="32" fill="#c0c0c0"/>
<rect x="101" y="677" width="1" height="39" fill="#c0c0c0"/>
<rect x="109" y="677" width="1" height="42" fill="#c0c0c0"/>
<rect x="117" y="677" width="1" height="44" fill="#c0c0c0"/>
<rect x="125" y="677" width="1" height="49" fill="#c0c0c0"/>
<rect x="133" y="677" width="1" height="56" fill="#c0c0c0"/>
<rect x="141" y="677" width="1" height="63" fill="#c0c0c0"/>
<rect x="149" y="677" width="1" height="61" fill="#c0c0c0"/>
<rect x="157" y="677" width="1" height="61" fill="#c0c0c0"/>
<rect x="165" y="677" width="1" height="59" fill="#c0c0c0"/>
<rect x="173" y="677" width="1" height="57" fill="#c0c0c0"/>
<rect x="181" y="677" width="1" height="46" fill="#c0c0c0"/>
<rect x="189" y="677" width="1" height="37" fill="#c0c0c0"/>
<rect x="197" y="677" width="1" height="31" fill="#c0c0c0"/>
<rect x="205" y="677" width="1" height="34" fill="#c0c0c0"/>
<rect x="213" y="677" width="1" height="35" fill="#c0c0c0"/>
<rect x="221" y="677" width="1" height="35" fill="#c0c0c0"/>
<rect x="229" y="677" width="1" height="32" fill="#c0c0c0"/>
<rect x="237" y="677" width="1" height="29" fill="#c0c0c0"/>
<rect x="245" y="677" width="1" height="27" fill="#c0c0c0"/>
<rect x="253" y="677" width="1" height="25" fill="#c0c0c0"/>
<rect x="261" y="677" width="1" height="15" fill="#c0c0c0"/>
<rect x="269" y="677" width="1" height="9" fill="#c0c0c0"/>
<rect x="277" y="677" width="1" height="12" fill="#c0c0c0"/>
<rect x="285" y="677" width="1" height="13" fill="#c0c0c0"/>
<rect x="293" y="677" width="1" height="14" fill="#c0c0c0"/>
<rect x="301" y="677" width="1" height="15" fill="#c0c0c0"/>
<rect x="309" y="677" width="1" height="24" fill="#c0c0c0"/>
<rect x="317" y="677" width="1" height="29" fill="#c0c0c0"/>
<rect x="325" y="677" width="1" height="41" fill="#c0c0c0"/>
<rect x="333" y="677" width="1" height="52" fill="#c0c0c0"/>
<rect x="341" y="677" width="1" height="61" fill="#c0c0c0"/>
<rect x="349" y="677" width="1" height="67" fill="#c0c0c0"/>
<rect x="357" y="677" width="1" height="65" fill="#c0c0c0"/>
<rect x="365" y="677" width="1" height="63" fill="#c0c0c0"/>
<rect x="373" y="677" width="1" height="57" fill="#c0c0c0"/>
<rect x="381" y="677" width="1" height="52" fill="#c0c0c0"/>
<rect x="389" y="677" width="1" height="44" fill="#c0c0c0"/>
<rect x="397" y="677" width="1" height="38" fill="#c0c0c0"/>
<rect x="405" y="677" width="1" height="35" fill="#c0c0c0"/>
<rect x="413" y="677" width="1" height="34" fill="#c0c0c0"/>
<rect x="421" y="677" width="1" height="27" fill="#c0c0c0"/>
<rect x="429" y="677" width="1" height="18" fill="#c0c0c0"/>
<rect x="437" y="677" width="1" height="14" fill="#c0c0c0"/>
<rect x="445" y="677" width="1" height="12" fill="#c0c0c0"/>
<rect x="453" y="677" width="1" height="6" fill="#c0c0c0"/>
<rect x="461" y="676" width="1" height="2" fill="#c0c0c0"/>
<rect x="469" y="675" width="1" height="3" fill="#c0c0c0"/>
<rect x="477" y="675" width="1" height="3" fill="#c0c0c0"/>
<rect x="485" y="677" width="1" height="1" fill="#c0c0c0"/>
<rect x="493" y="677" width="1" height="5" fill="#c0c0c0"/>
<rect x="501" y="677" width="1" height="4" fill="#c0c0c0"/>
<rect x="509" y="677" width="1" height="5" fill="#c0c0c0"/>
<rect x="517" y="677" width="1" height="1" fill="#c0c0c0"/>
<rect x="525" y="673" width="1" height="5" fill="#c0c0c0"/>
<rect x="533" y="675" width="1" height="3" fill="#c0c0c0"/>
<rect x="541" y="673" width="1" height="5" fill="#c0c0c0"/>
<rect x="549" y="672" width="1" height="6" fill="#c0c0c0"/>
<rect x="557" y="668" width="1" height="10" fill="#c0c0c0"/>
<rect x="565" y="661" width="1" height="17" fill="#c0c0c0"/>
<rect x="573" y="659" width="1" height="19" fill="#c0c0c0"/>
<rect x="581" y="656" width="1" height="22" fill="#c0c0c0"/>
<rect x="589" y="654" width="1" height="24" fill="#c0c0c0"/>
<rect x="597" y="661" width="1" height="17" fill="#c0c0c0"/>
<rect x="605" y="668" width="1" height="10" fill="#c0c0c0"/>
<rect x="613" y="670" width="1" height="8" fill="#c0c0c0"/>
<rect x="621" y="672" width="1" height="6" fill="#c0c0c0"/>
<rect x="629" y="669" width="1" height="9" fill="#c0c0c0"/>
<rect x="637" y="666" width="1" height="12" fill="#c0c0c0"/>
<rect x="645" y="663" width="1" height="15" fill="#c0c0c0"/>
<rect x="653" y="663" width="1" height="15" fill="#c0c0c0"/>
<rect x="661" y="665" width="1" height="13" fill="#c0c0c0"/>
<rect x="669" y="665" width="1" height="13" fill="#c0c0c0"/>
<rect x="677" y="667" width="1" height="11" fill="#c0c0c0"/>
<rect x="685" y="669" width="1" height="9" fill="#c0c0c0"/>
<rect x="693" y="666" width="1" height="12" fill="#c0c0c0"/>
<rect x="701" y="665" width="1" height="13" fill="#c0c0c0"/>
<rect x="709" y="670" width="1" height="8" fill="#c0c0c0"/>
<rect x="717" y="676" width="1" height="2" fill="#c0c0c0"/>
<rect x="725" y="677" width="1" height="11" fill="#c0c0c0"/>
<rect x="733" y="677" width="1" height="20" fill="#c0c0c0"/>
<rect x="741" y="677" width="1" height="25" fill="#c0c0c0"/>
<rect x="749" y="677" width="1" height="25" fill="#c0c0c0"/>
<rect x="757" y="677" width="1" height="26" fill="#c0c0c0"/>
<rect x="765" y="677" width="1" height="27" fill="#c0c0c0"/>
<rect x="773" y="677" width="1" height="29" fill="#c0c0c0"/>
<rect x="781" y="677" width="1" height="26" fill="#c0c0c0"/>
<rect x="789" y="677" width="1" height="20" fill="#c0c0c0"/>
<rect x="797" y="677" width="1" height="19" fill="#c0c0c0"/>
<rect x="805" y="677" width="1" height="20" fill="#c0c0c0"/>
<rect x="813" y="677" width="1" height="19" fill="#c0c0c0"/>
<rect x="821" y="677" width="1" height="27" fill="#c0c0c0"/>
<rect x="829" y="677" width="1" height="36" fill="#c0c0c0"/>
<rect x="837" y="677" width="1" height="43" fill="#c0c0c0"/>
<rect x="845" y="677" width="1" height="43" fill="#c0c0c0"/>
<rect x="853" y="677" width="1" height="46" fill="#c0c0c0"/>
<rect x="861" y="677" width="1" height="52" fill="#c0c0c0"/>
<rect x="869" y="677" width="1" height="52" fill="#c0c0c0"/>
<rect x="877" y="677" width="1" height="50" fill="#c0c0c0"/>
<rect x="885" y="677" width="1" height="46" fill="#c0c0c0"/>
<rect x="893" y="677" width="1" height="41" fill="#c0c0c0"/>
<rect x="901" y="677" width="1" height="30" fill="#c0c0c0"/>
<rect x="909" y="677" width="1" height="22" fill="#c0c0c0"/>
<rect x="917" y="677" width="1" height="18" fill="#c0c0c0"/>
<rect x="925" y="677" width="1" height="14" fill="#c0c0c0"/>
<rect x="933" y="677" width="1" height="12" fill="#c0c0c0"/>
<rect x="941" y="677" width="1" height="8" fill="#c0c0c0"/>
<rect x="949" y="677" width="1" height="7" fill="#c0c0c0"/>
<rect x="957" y="677" width="1" height="5" fill="#c0c0c0"/>
<rect x="965" y="674" width="1" height="4" fill="#c0c0c0"/>
<rect x="973" y="665" width="1" height="13" fill="#c0c0c0"/>
<rect x="981" y="654" width="1" height="24" fill="#c0c0c0"/>
<rect x="989" y="645" width="1" height="33" fill="#c0c0c0"/>
<rect x="997" y="641" width="1" height="37" fill="#c0c0c0"/>
<rect x="1005" y="637" width="1" height="41" fill="#c0c0c0"/>
<rect x="1013" y="632" width="1" height="46" fill="#c0c0c0"/>
<rect x="1021" y="632" width="1" height="46" fill="#c0c0c0"/>
<rect x="1029" y="635" width="1" height="43" fill="#c0c0c0"/>
<rect x="1037" y="636" width="1" height="42" fill="#c0c0c0"/>
<rect x="1045" y="634" width="1" height="44" fill="#c0c0c0"/>
<rect x="1053" y="630" width="1" height="48" fill="#c0c0c0"/>
<rect x="1061" y="630" width="1" height="48" fill="#c0c0c0"/>
<rect x="1069" y="632" width="1" height="46" fill="#c0c0c0"/>
<rect x="1077" y="634" width="1" height="44" fill="#c0c0c0"/>
<rect x="1085" y="640" width="1" height="38" fill="#c0c0c0"/>
<rect x="1093" y="645" width="1" height="33" fill="#c0c0c0"/>
<rect x="1101" y="650" width="1" height="28" fill="#c0c0c0"/>
<rect x="1109" y="658" width="1" height="20" fill="#c0c0c0"/>
<rect x="1117" y="662" width="1" height="16" fill="#c0c0c0"/>
<rect x="1125" y="668" width="1" height="10" fill="#c0c0c0"/>
<rect x="1133" y="671" width="1" height="7" fill="#c0c0c0"/>
<rect x="1141" y="674" width="1" height="4" fill="#c0c0c0"/>
<rect x="1149" y="676" width="1" height="2" fill="#c0c0c0"/>
<rect x="1157" y="676" width="1" height="2" fill="#c0c0c0"/>
<rect x="1165" y="677" width="1" height="1" fill="#c0c0c0"/>
<rect x="1173" y="677" width="1" height="1" fill="#c0c0c0"/>
<rect x="1181" y="677" width="1" height="1" fill="#c0c0c0"/>
<rect x="1189" y="677" width="1" height="4" fill="#c0c0c0"/>
<rect x="1197" y="677" width="1" height="8" fill="#c0c0c0"/>
<rect x="1205" y="677" width="1" height="10" fill="#c0c0c0"/>
<rect x="1213" y="677" width="1" height="14" fill="#c0c0c0"/>
<rect x="1221" y="677" width="1" height="17" fill="#c0c0c0"/>
<rect x="1229" y="677" width="1" height="18" fill="#c0c0c0"/>
<rect x="1237" y="677" width="1" height="15" fill="#c0c0c0"/>
<rect x="1245" y="677" width="1" height="12" fill="#c0c0c0"/>
<rect x="1253" y="677" width="1" height="15" fill="#c0c0c0"/>
<rect x="1261" y="677" width="1" height="16" fill="#c0c0c0"/>
<rect x="1269" y="677" width="1" height="17" fill="#c0c0c0"/>
<rect x="1277" y="677" width="1" height="21" fill="#c0c0c0"/>
<rect x="1285" y="677" width="1" height="18" fill="#c0c0c0"/>
<rect x="1293" y="677" width="1" height="12" fill="#c0c0c0"/>
<rect x="1301" y="677" width="1" height="6" fill="#c0c0c0"/>
<rect x="1309" y="677" width="1" height="1" fill="#c0c0c0"/>
<rect x="1317" y="672" width="1" height="6" fill="#c0c0c0"/>
<rect x="1325" y="665" width="1" height="13" fill="#c0c0c0"/>
<rect x="1333" y="659" width="1" height="19" fill="#c0c0c0"/>
<rect x="1341" y="659" width="1" height="19" fill="#c0c0c0"/>
<rect x="1349" y="660" width="1" height="18" fill="#c0c0c0"/>
<rect x="1357" y="661" width="1" height="17" fill="#c0c0c0"/>
<rect x="1365" y="669" width="1" height="9" fill="#c0c0c0"/>
<rect x="1373" y="677" width="1" height="1" fill="#c0c0c0"/>
<rect x="1381" y="677" width="1" height="8" fill="#c0c0c0"/>
<rect x="1389" y="677" width="1" height="16" fill="#c0c0c0"/>
<rect x="1397" y="677" width="1" height="23" fill="#c0c0c0"/>
<rect x="1405" y="677" width="1" height="31" fill="#c0c0c0"/>
<rect x="1413" y="677" width="1" height="36" fill="#c0c0c0"/>
<rect x="1421" y="677" width="1" height="41" fill="#c0c0c0"/>
<rect x="1429" y="677" width="1" height="41" fill="#c0c0c0"/>
</g>
<clipPath id="cpd"><rect x="0" y="583" width="1655" height="169"/></clipPath>
<g clip-path="url(#cpd)">
<polyline fill="none" shape-rendering="crispEdges" stroke="#f00" stroke-width="1" stroke-dasharray="3,3" points="1.3,593.3 15.2,602.7 27.8,612.8 40.4,626.7 53,641.9 65.7,659.5 78.3,676 90.9,691.1 103.5,703 116.2,711.3 128.8,717.6 141.4,722.7 154,726.5 166.7,731 176.8,732.8 189.4,732.3 202,729 214.6,723.9 227.3,718.9 239.9,713.8 252.5,710.1 265.2,705.5 277.8,702.5 290.4,698.7 303,695.7 318.2,695.4 328.3,697.9 338.4,703.7 348.5,712.6 358.6,718.9 368.7,726 378.8,731 388.9,733.3 399,733.3 409.1,729.7 419.2,725.2 429.3,718.9 432.5,716.4 440.1,711.8 450.2,703.7 460.3,697.4 470.4,692.4 480.5,687.3 490.6,683.5 500.7,682.3 508.3,680.5 518.4,679.2 526,677.2 536.1,677.2 548.7,677.2 556.3,676 566.4,673.4 573.9,670.2 581.5,667.1 589.1,665.4 596.7,662.8 606.8,662.8 619.4,662.3 632,662.3 644.6,663.3 652.2,664.6 662.3,665.4 672.4,665.4 682.5,665.4 692.6,665.4 700.2,664.3 710.3,665.4 720.4,667.1 728,670.4 735.6,673.9 745.7,679 755.8,684 765.9,689.1 773.4,693.1 783.5,698.7 793.6,700.7 803.7,701.2 816.4,700.5 826.5,702 836.6,703.7 846.7,705.8 856.8,708 860,710.6 870.1,716.4 880.2,718.9 890.3,722.2 900.4,722.7 910.5,718.9 920.6,715.9 930.7,710.1 940.8,705 950.9,698.7 961,692.4 971.1,686.6 981.2,679.7 991.3,673.4 1001.4,665.4 1011.5,658.3 1021.6,650.7 1031.7,644.4 1041.8,639.8 1051.9,635.6 1062,633.5 1072.1,632.5 1079.7,632.5 1087.3,633.8 1097.4,634.8 1107.5,638.1 1117.6,641.4 1127.7,646.2 1137.8,652 1147.9,657.8 1158,662.8 1168.1,667.9 1178.2,672.2 1188.3,675.5 1198.4,677.2 1206,679 1213.5,681 1223.6,683.5 1233.7,686.1 1237.6,688.1 1245.2,688.1 1252.7,689.3 1261.6,691.6 1269.1,692.4 1278,693.6 1285.6,693.6 1295.7,693.1 1303.2,691.1 1310.8,690.4 1318.4,687.8 1326,684.8 1333.5,681 1341.1,677.7 1348.7,674.2 1356.3,669.6 1366.4,666.6 1373.9,666.6 1382.8,666.6 1389.1,668.9 1396.7,672.9 1404.2,678 1411.8,683.5 1419.4,689.1 1425.7,694.9 1429.2,697.9"/>
</g>
<text class="ax" x="1.3" y="595" textLength="128.7" lengthAdjust="spacingAndGlyphs">MACD(12,26,9) -206.40 -97.97</text>
<text class="ax" transform="translate(1658.7,592) scale(.9,1)">447.9</text>
<text class="ax" transform="translate(1658.7,681) scale(.9,1)">0.00</text>
<text class="ax" transform="translate(1658.7,748) scale(.9,1)">-355.25</text>
<rect x="1656" y="677" width="2" height="1" fill="#000" shape-rendering="crispEdges"/>
<g shape-rendering="crispEdges">
<line x1="0" y1="790.5" x2="1655" y2="790.5" stroke="#c0c0c0" stroke-width="1" stroke-dasharray="3,3" stroke-dashoffset="2"/>
<line x1="0" y1="841.5" x2="1655" y2="841.5" stroke="#c0c0c0" stroke-width="1" stroke-dasharray="3,3" stroke-dashoffset="2"/>
<line x1="0" y1="902.5" x2="1655" y2="902.5" stroke="#c0c0c0" stroke-width="1" stroke-dasharray="3,3" stroke-dashoffset="2"/>
</g>
<polyline fill="none" shape-rendering="crispEdges" stroke="#1e90ff" stroke-width="1"  points="0,833.3 5,841.9 13,851 21,837.1 29,842.6 37,855.8 45,860.3 53,855.3 61,853.3 69,857.3 77,859.3 85,846.4 93,841.4 101,855.3 109,852.2 117,853.3 125,854.8 133,859.6 141,863.4 149,852.2 157,854.5 165,853.3 173,853.3 181,838.4 189,840.1 197,840.1 205,854.3 213,849.2 221,850.2 229,846.4 237,847.4 245,846.4 253,845.2 261,830.8 269,834.3 277,848.5 285,847.2 293,848.2 301,849.7 309,861.1 317,861.1 325,873.2 333,874.5 341,874.5 349,875.5 357,861.1 365,856 373,851 381,852.2 389,840.1 397,845.2 405,848.2 413,852.2 421,838.9 429,833.3 437,838.4 445,843.9 453,830.8 461,827.2 469,837.8 477,841.9 485,851.5 493,849.5 501,839.4 509,845.2 517,835.3 525,832.3 533,844.2 541,837.3 549,837.3 557,831.3 565,824.2 573,832.3 581,830.3 589,830.3 597,847.2 605,850.5 613,843.4 621,842.1 629,833.3 637,831.3 645,830.3 653,835.8 661,838.1 669,839.4 677,843.2 685,841.1 693,830.3 701,829 709,849.5 717,855.3 725,868.4 733,867.1 741,861.1 749,851.2 757,852.2 765,856.3 773,855.3 781,845.9 789,839.4 797,845.2 805,851.2 813,847.2 821,869.2 829,869.2 837,871.2 845,857 853,862.3 861,870.4 869,857.3 877,854.3 885,850.2 893,846.4 901,833.3 909,833.3 917,840.4 925,840.4 933,841.4 941,838.4 949,842.4 957,838.4 965,822.7 973,817.6 981,812.8 989,810.3 997,819.4 1005,817.1 1013,813.4 1021,824.2 1029,830.3 1037,827.2 1045,820.4 1053,814.4 1061,823.5 1069,826.2 1077,829.8 1085,839.4 1093,837.1 1101,841.9 1109,850.2 1117,844.4 1125,850.2 1133,846.7 1141,846.4 1149,845.2 1157,841.6 1165,850.2 1173,840.4 1181,839.4 1189,853.3 1197,855.3 1205,855.3 1213,861.1 1221,857.3 1229,856 1237,841.4 1245,836.3 1253,856 1261,852.2 1269,853.5 1277,862.3 1285,838.9 1293,835.3 1301,832.3 1309,831.3 1317,821.4 1325,819.4 1333,819.4 1341,832 1349,836.3 1357,836.3 1365,848.2 1373,864.1 1381,865.9 1389,867.9 1397,868.7 1405,875.5 1413,871.7 1421,873.7 1429,869.2"/>
<text class="ax" x="2" y="767" textLength="66.7" lengthAdjust="spacingAndGlyphs">RSI(14) 34.3690</text>
<text class="ax" transform="translate(1658.7,765) scale(.9,1)">100</text>
<text class="ax" transform="translate(1658.7,794) scale(.9,1)">80</text>
<text class="ax" transform="translate(1658.7,845) scale(.9,1)">50</text>
<text class="ax" transform="translate(1658.7,906) scale(.9,1)">15</text>
<text class="ax" transform="translate(1658.7,925) scale(.9,1)">0</text>
<g shape-rendering="crispEdges">
<rect x="61" y="929" width="1" height="3" fill="#000"/>
<rect x="125" y="929" width="1" height="3" fill="#000"/>
<rect x="189" y="929" width="1" height="3" fill="#000"/>
<rect x="253" y="929" width="1" height="3" fill="#000"/>
<rect x="317" y="929" width="1" height="3" fill="#000"/>
<rect x="381" y="929" width="1" height="3" fill="#000"/>
<rect x="445" y="929" width="1" height="3" fill="#000"/>
<rect x="509" y="929" width="1" height="3" fill="#000"/>
<rect x="573" y="929" width="1" height="3" fill="#000"/>
<rect x="637" y="929" width="1" height="3" fill="#000"/>
<rect x="701" y="929" width="1" height="3" fill="#000"/>
<rect x="765" y="929" width="1" height="3" fill="#000"/>
<rect x="829" y="929" width="1" height="3" fill="#000"/>
<rect x="893" y="929" width="1" height="3" fill="#000"/>
<rect x="957" y="929" width="1" height="3" fill="#000"/>
<rect x="1021" y="929" width="1" height="3" fill="#000"/>
<rect x="1085" y="929" width="1" height="3" fill="#000"/>
<rect x="1149" y="929" width="1" height="3" fill="#000"/>
<rect x="1213" y="929" width="1" height="3" fill="#000"/>
<rect x="1277" y="929" width="1" height="3" fill="#000"/>
<rect x="1341" y="929" width="1" height="3" fill="#000"/>
<rect x="1405" y="929" width="1" height="3" fill="#000"/>
</g>
<text class="ax" transform="translate(-2.7,941) scale(.915,1)">23 Feb 2021</text>
<text class="ax" transform="translate(61.3,941) scale(.915,1)">1 Mar 05:00</text>
<text class="ax" transform="translate(125.3,941) scale(.915,1)">5 Mar 05:00</text>
<text class="ax" transform="translate(189.3,941) scale(.915,1)">11 Mar 05:00</text>
<text class="ax" transform="translate(253.3,941) scale(.915,1)">17 Mar 05:00</text>
<text class="ax" transform="translate(317.3,941) scale(.915,1)">23 Mar 05:00</text>
<text class="ax" transform="translate(381.3,941) scale(.915,1)">29 Mar 05:00</text>
<text class="ax" transform="translate(445.3,941) scale(.915,1)">7 Apr 05:00</text>
<text class="ax" transform="translate(509.3,941) scale(.915,1)">13 Apr 05:00</text>
<text class="ax" transform="translate(573.3,941) scale(.915,1)">19 Apr 05:00</text>
<text class="ax" transform="translate(637.3,941) scale(.915,1)">23 Apr 05:00</text>
<text class="ax" transform="translate(701.3,941) scale(.915,1)">29 Apr 05:00</text>
<text class="ax" transform="translate(765.3,941) scale(.915,1)">5 May 05:00</text>
<text class="ax" transform="translate(829.3,941) scale(.915,1)">11 May 05:00</text>
<text class="ax" transform="translate(893.3,941) scale(.915,1)">17 May 05:00</text>
<text class="ax" transform="translate(957.3,941) scale(.915,1)">24 May 05:00</text>
<text class="ax" transform="translate(1021.3,941) scale(.915,1)">28 May 05:00</text>
<text class="ax" transform="translate(1085.3,941) scale(.915,1)">3 Jun 05:00</text>
<text class="ax" transform="translate(1149.3,941) scale(.915,1)">9 Jun 05:00</text>
<text class="ax" transform="translate(1213.3,941) scale(.915,1)">16 Jun 05:00</text>
<text class="ax" transform="translate(1277.3,941) scale(.915,1)">22 Jun 05:00</text>
<text class="ax" transform="translate(1341.3,941) scale(.915,1)">29 Jun 01:15</text>
<text class="ax" transform="translate(1405.3,941) scale(.915,1)">6 Jul 01:15</text>
<polygon points="0,37 7,37 3.5,32" fill="#000"/><rect x="5" y="31" width="2" height="2" fill="#000"/>
<text class="ax" x="12.4" y="39" textLength="187.2" lengthAdjust="spacingAndGlyphs" xml:space="preserve">HK50-,H4  27827.0 27974.5 27721.0 27923.0</text>
<g shape-rendering="crispEdges">
<rect x="0" y="47" width="52" height="25" fill="url(#gb)"/>
<rect x="167" y="47" width="52" height="25" fill="url(#gb)"/>
<rect x="0" y="69" width="109" height="35" fill="url(#gb2)"/>
<rect x="111" y="69" width="108" height="35" fill="url(#gb2)"/>
<rect x="0" y="47" width="52" height="22" fill="url(#gb)"/><rect x="167" y="47" width="52" height="22" fill="url(#gb)"/>
<rect x="4" y="70" width="44" height="1" fill="#7070e8"/><rect x="171" y="70" width="44" height="1" fill="#7070e8"/>
<rect x="52" y="47" width="115" height="22" fill="#fff"/>
<rect x="54.5" y="47.5" width="110" height="21" fill="#fff" stroke="#a0a0a0"/>
<rect x="56" y="49" width="18" height="18" fill="url(#gbtn)" stroke="#c8c8c8"/>
<rect x="145" y="49" width="18" height="18" fill="url(#gbtn)" stroke="#c8c8c8"/>
<rect x="75" y="48" width="1" height="20" fill="#c0c0c0"/><rect x="143" y="48" width="1" height="20" fill="#c0c0c0"/>
</g>
<polygon points="61.5,56 67.5,56 64.5,59.5" fill="#4a5fc8"/><polygon points="150.5,59.5 156.5,59.5 153.5,56" fill="#4a5fc8"/>
<text x="12.4" y="62.7" font-size="11.2" fill="#fff" textLength="25.4" lengthAdjust="spacingAndGlyphs">SELL</text>
<text x="180.7" y="62.7" font-size="11.2" fill="#fff" textLength="22.6" lengthAdjust="spacingAndGlyphs">BUY</text>
<text x="116.6" y="62.3" font-size="11.6" fill="#222" textLength="23" lengthAdjust="spacingAndGlyphs">1.00</text>
<text x="16" y="98.8" font-size="12" font-weight="bold" fill="#fff" textLength="35" lengthAdjust="spacingAndGlyphs">27921</text>
<text x="126" y="98.8" font-size="12" font-weight="bold" fill="#fff" textLength="35" lengthAdjust="spacingAndGlyphs">27934</text>
<rect x="56" y="95" width="3.4" height="3.6" fill="#fff"/><rect x="167" y="95" width="3.4" height="3.6" fill="#fff"/>
<text transform="translate(62.2,99) scale(.86,1)" font-size="33" fill="#fff">5</text>
<text transform="translate(172.9,99) scale(.86,1)" font-size="33" fill="#fff">5</text>
<line x1="1335.4" y1="314.6" x2="1412.3" y2="526" stroke="#f00" stroke-width="3.3"/>
<polygon fill="#f00" points="1415,533.5 1407.8,525.5 1415.3,522.7"/>
<line x1="1414.6" y1="533" x2="1425.6" y2="524.6" stroke="#f00" stroke-width="3.3"/>
<polygon fill="#f00" points="1431.2,520.3 1426.4,528.8 1421.7,522.8"/>
<line x1="1357" y1="662.8" x2="1429.5" y2="713.9" stroke="#f00" stroke-width="3.5"/>
<polygon fill="#f00" points="1436,718.5 1425.3,716.3 1430.3,709.2"/>
<line x1="1327.7" y1="818.1" x2="1386.7" y2="863.3" stroke="#f00" stroke-width="3.5"/>
<polygon fill="#f00" points="1393,868.2 1382.4,865.5 1387.7,858.7"/>
<line x1="1391" y1="869" x2="1414.3" y2="871.5" stroke="#f00" stroke-width="3.5"/>
<polygon fill="#f00" points="1423.3,872.4 1411.9,875.5 1412.8,867"/>
<rect x="1334" y="489" width="143" height="8" fill="#00ff00" shape-rendering="crispEdges"/>
<g id="tbicons">
<rect x="-3" y="4" width="7" height="9" fill="#fff" stroke="#999" stroke-width=".6"/>
<line x1="3.6" y1="15" x2="8" y2="19.5" stroke="#d8a830" stroke-width="2.4" stroke-linecap="round"/>
<circle cx="0.2" cy="11.3" r="4.3" fill="#cfe6f8" fill-opacity=".85" stroke="#5f8fd0" stroke-width="1.1"/>
<rect x="16" y="1" width="1" height="20" fill="#9a9a9a" shape-rendering="crispEdges"/>
<path d="M26.8 3.8 h8 l3.2 3.2 v9.2 h-11.2z" fill="#fff" stroke="#666" stroke-width="1"/><path d="M34.8 3.8 v3.2 h3.2" fill="#e8e8e8" stroke="#666" stroke-width=".8"/>
<g stroke="#888" stroke-width="1"><line x1="28.5" y1="7.5" x2="32" y2="7.5"/><line x1="28.5" y1="10.5" x2="35" y2="10.5"/><line x1="28.5" y1="13" x2="33" y2="13"/></g>
<path d="M34.7 9.5 h3.2 v3.9 h3.9 v3.2 h-3.9 v3.9 h-3.2 v-3.9 h-3.9 v-3.2 h3.9z" fill="#1fc01f" stroke="#0c8a0c" stroke-width="0.8"/>
<path d="M35.5 10.2 h1.4 v3.9 h3.9 v1.2 h-9.2 v-1.2 h3.9z" fill="#6fe86f" fill-opacity=".8"/>
<text x="45" y="15.3" font-size="12" fill="#000" style="font-family:'Noto Sans CJK SC','WenQuanYi Zen Hei',sans-serif">新订单</text>
<defs><linearGradient id="gbk" x1="0" y1="0" x2="1" y2="1"><stop offset="0" stop-color="#fbe36a"/><stop offset=".55" stop-color="#e9b520"/><stop offset="1" stop-color="#c88a08"/></linearGradient></defs>
<polygon points="99.2,4.3 108.8,11.4 101.6,18.8 93.1,13.2" fill="#b87808"/><polygon points="99.2,4.3 108.6,11 101.6,17 94.2,12.6" fill="url(#gbk)"/><polyline points="94,13.4 101.6,18 108.4,11.8" fill="none" stroke="#f0d890" stroke-width=".8"/><polyline points="93.2,13.4 101.6,18.9 108.9,11.6" fill="none" stroke="#9a6408" stroke-width=".9"/>
<path d="M123.5 4.5 l3 -1.2 h7.2 v10 h-10.2z" fill="#2a8ae8" stroke="#1a5fc0" stroke-width=".8"/><rect x="127.2" y="6" width="5.5" height="5" fill="#9fd0ff"/><rect x="128" y="7.5" width="4" height="1" fill="#fff"/>
<path d="M124 18.6 a3 3 0 0 1 -.4 -5.9 a3.6 3.6 0 0 1 6.6 -1.2 a2.6 2.6 0 0 1 3.8 1.8 a2.7 2.7 0 0 1 -.6 5.3z" fill="#f4f6fb" stroke="#6f86b8" stroke-width="1"/>
<g fill="none" stroke-width="1.1"><circle cx="156.8" cy="10.7" r="7.2" stroke="#b8c8e8"/><circle cx="156.8" cy="10.7" r="4.8" stroke="#7fa0dc"/><circle cx="156.8" cy="10.7" r="2.5" stroke="#4878d0"/></g>
<path d="M156.8 10.7 L160.6 4.1 A7.6 7.6 0 0 1 156.8 18.3 Z" fill="#6cc46c" fill-opacity=".55"/><path d="M156.8 10.7 L159.3 6.4 A5 5 0 0 1 156.8 15.7 Z" fill="#a8e0a8" fill-opacity=".8"/>
<circle cx="156.8" cy="10.7" r="1.5" fill="#2858c8"/><line x1="156.8" y1="11" x2="156.8" y2="18.6" stroke="#18a018" stroke-width="1.3"/>
<defs><linearGradient id="gyl" x1="0" y1="0" x2="1" y2="1"><stop offset="0" stop-color="#fdf08a"/><stop offset="1" stop-color="#e8b018"/></linearGradient></defs>
<polygon points="177,9.6 191.2,9.6 185.2,18.5 182.6,18.5" fill="url(#gyl)" stroke="#c8a018" stroke-width=".7"/>
<ellipse cx="183.9" cy="8.4" rx="7.9" ry="2.7" fill="#4a98dc" stroke="#2a70b8" stroke-width=".6"/>
<path d="M180 8 c0 -6.4 7.8 -6.4 7.8 0 c-2 1.4 -5.8 1.4 -7.8 0z" fill="#62b0ea" stroke="#2a78c0" stroke-width=".6"/>
<ellipse cx="182.8" cy="4.8" rx="1.6" ry="1" fill="#b8dcf8" fill-opacity=".8"/>
<circle cx="188.5" cy="14.6" r="4.3" fill="#e02810"/><rect x="186.8" y="12.9" width="3.4" height="3.4" fill="#fff"/>
<text x="196.8" y="15.3" font-size="12" fill="#000" style="font-family:'Noto Sans CJK SC','WenQuanYi Zen Hei',sans-serif">自动交易</text>
<rect x="252" y="0" width="1" height="23" fill="#8c8c8c" shape-rendering="crispEdges"/><rect x="253" y="0" width="1" height="23" fill="#fdfdfd" shape-rendering="crispEdges"/>
<rect x="256" y="1" width="3" height="1" fill="#a8a8a8" shape-rendering="crispEdges"/>
<rect x="256" y="3" width="3" height="1" fill="#a8a8a8" shape-rendering="crispEdges"/>
<rect x="256" y="5" width="3" height="1" fill="#a8a8a8" shape-rendering="crispEdges"/>
<rect x="256" y="7" width="3" height="1" fill="#a8a8a8" shape-rendering="crispEdges"/>
<rect x="256" y="9" width="3" height="1" fill="#a8a8a8" shape-rendering="crispEdges"/>
<rect x="256" y="11" width="3" height="1" fill="#a8a8a8" shape-rendering="crispEdges"/>
<rect x="256" y="13" width="3" height="1" fill="#a8a8a8" shape-rendering="crispEdges"/>
<rect x="256" y="15" width="3" height="1" fill="#a8a8a8" shape-rendering="crispEdges"/>
<rect x="256" y="17" width="3" height="1" fill="#a8a8a8" shape-rendering="crispEdges"/>
<rect x="256" y="19" width="3" height="1" fill="#a8a8a8" shape-rendering="crispEdges"/>
<g stroke="#505050" stroke-width="1" fill="none" shape-rendering="crispEdges"><line x1="270.5" y1="5" x2="270.5" y2="19"/><line x1="268" y1="16.5" x2="281" y2="16.5"/></g>
<polygon points="270.5,4.4 268.7,7.6 272.3,7.6" fill="#505050"/>
<polygon points="282.2,16.5 279.2,14.7 279.2,18.3" fill="#505050"/>
<g stroke="#0a8a0a" stroke-width="1.2" fill="none"><polyline points="274.2,13.8 276.9,13.8 276.9,7.2 279,7.2"/></g>
<rect x="290" y="1" width="1" height="20" fill="#9a9a9a" shape-rendering="crispEdges"/>
<rect x="291" y="0" width="25" height="22" fill="#fafafa" shape-rendering="crispEdges"/>
<g stroke="#505050" stroke-width="1" fill="none" shape-rendering="crispEdges"><line x1="298.5" y1="5" x2="298.5" y2="19"/><line x1="296" y1="16.5" x2="309" y2="16.5"/></g>
<polygon points="298.5,4.4 296.7,7.6 300.3,7.6" fill="#505050"/>
<polygon points="310.2,16.5 307.2,14.7 307.2,18.3" fill="#505050"/>
<line x1="304.5" y1="3" x2="304.5" y2="14.6" stroke="#0a7a0a" stroke-width="1.2"/><rect x="302.4" y="5.4" width="4.2" height="7.2" fill="#3fdc3f" stroke="#0a8a0a" stroke-width="1"/>
<g stroke="#505050" stroke-width="1" fill="none" shape-rendering="crispEdges"><line x1="326.5" y1="5" x2="326.5" y2="19"/><line x1="324" y1="16.5" x2="337" y2="16.5"/></g>
<polygon points="326.5,4.4 324.7,7.6 328.3,7.6" fill="#505050"/>
<polygon points="338.2,16.5 335.2,14.7 335.2,18.3" fill="#505050"/>
<path d="M325.2 13.6 C328 12.5 329.5 8.2 331.4 8.2 S335 11.6 337.2 12.2" fill="none" stroke="#0a8a0a" stroke-width="1.2"/>
<rect x="347" y="1" width="1" height="20" fill="#9a9a9a" shape-rendering="crispEdges"/>
<line x1="366.3" y1="13.6" x2="370.90000000000003" y2="18" stroke="#d8a830" stroke-width="2.6" stroke-linecap="round"/>
<line x1="366.5" y1="13.2" x2="370.70000000000005" y2="17.4" stroke="#f4dc80" stroke-width="1"/>
<circle cx="362.1" cy="9.2" r="5.4" fill="#cde6fa" stroke="#3f7fd0" stroke-width="1.3"/>
<rect x="359.3" y="8.4" width="5.6" height="1.6" fill="#3f86b8"/>
<rect x="361.3" y="6.4" width="1.6" height="5.6" fill="#3f86b8"/>
<line x1="394.3" y1="13.6" x2="398.90000000000003" y2="18" stroke="#d8a830" stroke-width="2.6" stroke-linecap="round"/>
<line x1="394.5" y1="13.2" x2="398.70000000000005" y2="17.4" stroke="#f4dc80" stroke-width="1"/>
<circle cx="390.1" cy="9.2" r="5.4" fill="#cde6fa" stroke="#3f7fd0" stroke-width="1.3"/>
<rect x="387.3" y="8.4" width="5.6" height="1.6" fill="#3f86b8"/>
<rect x="412" y="3" width="8" height="7.8" fill="#3c9c1c"/>
<rect x="413.2" y="6.3" width="5.6" height="3.4" rx=".6" fill="#fff"/><rect x="414.2" y="7.2" width="3.6" height="1" fill="#3c9c1c" fill-opacity=".55"/>
<rect x="413" y="4.2" width="1" height="1" fill="#fff" fill-opacity=".8"/>
<rect x="420.3" y="3" width="8" height="7.8" fill="#2060d8"/>
<rect x="421.5" y="6.3" width="5.6" height="3.4" rx=".6" fill="#fff"/><rect x="422.5" y="7.2" width="3.6" height="1" fill="#2060d8" fill-opacity=".55"/>
<rect x="421.3" y="4.2" width="1" height="1" fill="#fff" fill-opacity=".8"/>
<rect x="412" y="11" width="8" height="7.8" fill="#2060d8"/>
<rect x="413.2" y="14.3" width="5.6" height="3.4" rx=".6" fill="#fff"/><rect x="414.2" y="15.2" width="3.6" height="1" fill="#2060d8" fill-opacity=".55"/>
<rect x="413" y="12.2" width="1" height="1" fill="#fff" fill-opacity=".8"/>
<rect x="420.3" y="11" width="8" height="7.8" fill="#3c9c1c"/>
<rect x="421.5" y="14.3" width="5.6" height="3.4" rx=".6" fill="#fff"/><rect x="422.5" y="15.2" width="3.6" height="1" fill="#3c9c1c" fill-opacity=".55"/>
<rect x="421.3" y="12.2" width="1" height="1" fill="#fff" fill-opacity=".8"/>
<rect x="437" y="1" width="1" height="20" fill="#9a9a9a" shape-rendering="crispEdges"/>
<rect x="442" y="1" width="1" height="20" fill="#9a9a9a" shape-rendering="crispEdges"/>
<rect x="443" y="0" width="24" height="22" fill="#fafafa" shape-rendering="crispEdges"/>
<g stroke="#505050" stroke-width="1" fill="none" shape-rendering="crispEdges"><line x1="450.5" y1="5" x2="450.5" y2="19"/><line x1="448" y1="16.5" x2="461" y2="16.5"/></g>
<polygon points="450.5,4.4 448.7,7.6 452.3,7.6" fill="#505050"/>
<polygon points="462.2,16.5 459.2,14.7 459.2,18.3" fill="#505050"/>
<polygon points="455.4,7.2 455.4,13.8 459,10.5" fill="#5fe05f" stroke="#0a8a0a" stroke-width="1"/>
<rect x="470" y="1" width="1" height="20" fill="#9a9a9a" shape-rendering="crispEdges"/>
<rect x="471" y="0" width="24" height="22" fill="#fafafa" shape-rendering="crispEdges"/>
<g stroke="#505050" stroke-width="1" fill="none" shape-rendering="crispEdges"><line x1="478.5" y1="5" x2="478.5" y2="19"/><line x1="476" y1="16.5" x2="489" y2="16.5"/></g>
<polygon points="478.5,4.4 476.7,7.6 480.3,7.6" fill="#505050"/>
<polygon points="490.2,16.5 487.2,14.7 487.2,18.3" fill="#505050"/>
<line x1="484.5" y1="5" x2="484.5" y2="15" stroke="#1868a8" stroke-width="1.4"/>
<line x1="485.5" y1="10.5" x2="490" y2="10.5" stroke="#e04808" stroke-width="1.2"/><polygon points="485.3,10.5 488.4,8 487.6,10.5 488.4,13" fill="#e04808"/>
<rect x="499" y="1" width="1" height="20" fill="#9a9a9a" shape-rendering="crispEdges"/>
<path d="M509.6 3.6 h7.6 l3.4 3.4 v9.4 h-11z" fill="#fff" stroke="#888" stroke-width="1"/><path d="M517.2 3.6 v3.4 h3.4" fill="#eee" stroke="#888" stroke-width=".8"/>
<text x="511.2" y="13.5" font-size="10" font-style="italic" fill="#444" style="font-family:'Liberation Serif',serif">f</text>
<path d="M517.6 9.5 h3.2 v3.9 h3.9 v3.2 h-3.9 v3.9 h-3.2 v-3.9 h-3.9 v-3.2 h3.9z" fill="#1fc01f" stroke="#0c8a0c" stroke-width="0.8"/>
<path d="M518.4000000000001 10.2 h1.4 v3.9 h3.9 v1.2 h-9.2 v-1.2 h3.9z" fill="#6fe86f" fill-opacity=".8"/>
<polygon points="530.6,10 536.6,10 533.6,13.2" fill="#000"/>
<circle cx="555.1" cy="10.7" r="7" fill="#fff" stroke="#1464d0" stroke-width="2.4"/><circle cx="555.1" cy="10.7" r="8.1" fill="none" stroke="#0a3f98" stroke-width=".5"/>
<g stroke="#333" stroke-width="1.1" stroke-linecap="round"><line x1="555.1" y1="10.7" x2="555.1" y2="6.8"/><line x1="555.1" y1="10.7" x2="558" y2="10.9"/></g>
<g fill="#9ab"><rect x="554.7" y="14.6" width="1" height="1"/><rect x="550.8" y="10.3" width="1" height="1"/><rect x="552" y="7.2" width="1" height="1"/><rect x="552" y="13.4" width="1" height="1"/><rect x="557.6" y="13.4" width="1" height="1"/></g>
<polygon points="569.5,10 575.5,10 572.5,13.2" fill="#000"/>
<rect x="586.6" y="4.7" width="15" height="13" fill="#fff" stroke="#3a78c8" stroke-width="1.2"/><rect x="587" y="5" width="14.2" height="2.2" fill="#3f86dc"/><line x1="587" y1="12.3" x2="601.4" y2="12.3" stroke="#3a78c8" stroke-width="1"/>
<polyline points="588.4,10.6 590,10.6 591.6,9.2 593.4,8.6 594.8,9.6 596.6,9.4 598.4,8.4 600,8.2" fill="none" stroke="#a01800" stroke-width="1.1"/>
<polyline points="588.6,15.8 590.4,15.2 592,15.8 594,15 596,13.8 597.4,13.6 598.8,15 600,15.6" fill="none" stroke="#108010" stroke-width="1.1"/>
<polygon points="608.5,10 614.5,10 611.5,13.2" fill="#000"/>
<rect x="620" y="0" width="1" height="23" fill="#8c8c8c" shape-rendering="crispEdges"/><rect x="621" y="0" width="1" height="23" fill="#fdfdfd" shape-rendering="crispEdges"/>
<rect x="624" y="1" width="3" height="1" fill="#a8a8a8" shape-rendering="crispEdges"/>
<rect x="624" y="3" width="3" height="1" fill="#a8a8a8" shape-rendering="crispEdges"/>
<rect x="624" y="5" width="3" height="1" fill="#a8a8a8" shape-rendering="crispEdges"/>
<rect x="624" y="7" width="3" height="1" fill="#a8a8a8" shape-rendering="crispEdges"/>
<rect x="624" y="9" width="3" height="1" fill="#a8a8a8" shape-rendering="crispEdges"/>
<rect x="624" y="11" width="3" height="1" fill="#a8a8a8" shape-rendering="crispEdges"/>
<rect x="624" y="13" width="3" height="1" fill="#a8a8a8" shape-rendering="crispEdges"/>
<rect x="624" y="15" width="3" height="1" fill="#a8a8a8" shape-rendering="crispEdges"/>
<rect x="624" y="17" width="3" height="1" fill="#a8a8a8" shape-rendering="crispEdges"/>
<rect x="624" y="19" width="3" height="1" fill="#a8a8a8" shape-rendering="crispEdges"/>
<rect x="630" y="1" width="1" height="20" fill="#9a9a9a" shape-rendering="crispEdges"/>
<rect x="631" y="0" width="24" height="22" fill="#fafafa" shape-rendering="crispEdges"/>
<polygon points="638.2,3.8 638.2,15 640.9,12.7 643.3,18.4 645.2,17.5 642.9,11.9 646.4,11.9" fill="#404040"/>
<g stroke="#404040" stroke-width="1" shape-rendering="crispEdges"><line x1="663" y1="11.5" x2="669" y2="11.5"/><line x1="672" y1="11.5" x2="678" y2="11.5"/><line x1="670.5" y1="4" x2="670.5" y2="10"/><line x1="670.5" y1="13" x2="670.5" y2="19"/></g><rect x="670" y="11" width="1" height="1" fill="#404040"/>
<rect x="687" y="1" width="1" height="20" fill="#9a9a9a" shape-rendering="crispEdges"/>
<g stroke="#484848" stroke-width="1" shape-rendering="crispEdges"><line x1="704.5" y1="5" x2="704.5" y2="18"/><line x1="727" y1="11.5" x2="739" y2="11.5"/></g>
<line x1="754.8" y1="17.8" x2="767" y2="5.5" stroke="#505050" stroke-width="1.1"/>
<g stroke="#505050" stroke-width="1" fill="none"><line x1="781" y1="12.6" x2="789" y2="5.2"/><line x1="783.5" y1="15.2" x2="793.5" y2="5.6"/><line x1="786" y1="17.6" x2="795" y2="9.2"/><polyline points="782.6,17 784,11 786,14.6 787.6,8.4 789.6,12 791.4,6.4 793,3 793.4,9.8"/></g>
<text x="791.8" y="19.8" font-size="6.6" font-weight="bold" fill="#404040">E</text>
<line x1="810" y1="4.6" x2="823" y2="4.6" stroke="#505050" stroke-width="1" stroke-dasharray="1,1"/>
<line x1="810" y1="7.6" x2="823" y2="7.6" stroke="#505050" stroke-width="1" stroke-dasharray="1,1"/>
<line x1="810" y1="11.5" x2="823" y2="11.5" stroke="#505050" stroke-width="1" stroke-dasharray="1,1"/>
<line x1="810" y1="15.6" x2="819" y2="15.6" stroke="#505050" stroke-width="1" stroke-dasharray="1,1"/>
<text x="819.6" y="19.8" font-size="6.6" font-weight="bold" fill="#404040">F</text>
<text x="844.5" y="16" font-size="12.8" font-weight="bold" fill="#606060" text-anchor="middle">A</text>
<rect x="867.5" y="5.5" width="11.5" height="12.5" fill="none" stroke="#505050" stroke-width="1" stroke-dasharray="1,1"/><rect x="866" y="4" width="2" height="2" fill="#505050"/>
<text x="873.2" y="15.7" font-size="11.5" font-weight="bold" fill="#505050" text-anchor="middle">T</text>
<polygon points="897.6,5 901.2,8.4 899.6,10 895.6,10 894,8.4" fill="#505050"/><polygon points="904.8,18.2 901.2,14.8 902.8,13.2 906.8,13.2 908.4,14.8" fill="#505050"/>
<polyline points="896.4,13 898.7,14.6 902.6,9.4" fill="none" stroke="#505050" stroke-width="1.3"/>
<polygon points="914.4,10 920.4,10 917.4,13.2" fill="#000"/>
<rect x="926" y="0" width="1" height="23" fill="#8c8c8c" shape-rendering="crispEdges"/><rect x="927" y="0" width="1" height="23" fill="#fdfdfd" shape-rendering="crispEdges"/>
<rect x="930" y="1" width="3" height="1" fill="#a8a8a8" shape-rendering="crispEdges"/>
<rect x="930" y="3" width="3" height="1" fill="#a8a8a8" shape-rendering="crispEdges"/>
<rect x="930" y="5" width="3" height="1" fill="#a8a8a8" shape-rendering="crispEdges"/>
<rect x="930" y="7" width="3" height="1" fill="#a8a8a8" shape-rendering="crispEdges"/>
<rect x="930" y="9" width="3" height="1" fill="#a8a8a8" shape-rendering="crispEdges"/>
<rect x="930" y="11" width="3" height="1" fill="#a8a8a8" shape-rendering="crispEdges"/>
<rect x="930" y="13" width="3" height="1" fill="#a8a8a8" shape-rendering="crispEdges"/>
<rect x="930" y="15" width="3" height="1" fill="#a8a8a8" shape-rendering="crispEdges"/>
<rect x="930" y="17" width="3" height="1" fill="#a8a8a8" shape-rendering="crispEdges"/>
<rect x="930" y="19" width="3" height="1" fill="#a8a8a8" shape-rendering="crispEdges"/>
<rect x="1076" y="1" width="1" height="20" fill="#9a9a9a" shape-rendering="crispEdges"/>
<rect x="1077" y="0" width="23" height="22" fill="#fafafa" shape-rendering="crispEdges"/>
<rect x="1187" y="1" width="1" height="20" fill="#9a9a9a" shape-rendering="crispEdges"/>
<text x="947.8" y="15" font-size="9.6" fill="#404040" text-anchor="middle">M1</text>
<text x="976" y="15" font-size="9.6" fill="#404040" text-anchor="middle">M5</text>
<text x="1004.4" y="15" font-size="9.6" fill="#404040" text-anchor="middle">M15</text>
<text x="1032" y="15" font-size="9.6" fill="#404040" text-anchor="middle">M30</text>
<text x="1060" y="15" font-size="9.6" fill="#404040" text-anchor="middle">H1</text>
<text x="1088" y="15" font-size="9.6" fill="#404040" text-anchor="middle">H4</text>
<text x="1116" y="15" font-size="9.6" fill="#404040" text-anchor="middle">D1</text>
<text x="1145" y="15" font-size="9.6" fill="#404040" text-anchor="middle">W1</text>
<text x="1172.4" y="15" font-size="9.6" fill="#404040" text-anchor="middle">MN</text>
<line x1="1650.2" y1="15.8" x2="1653.6" y2="12.4" stroke="#2050c8" stroke-width="2" stroke-linecap="round"/><circle cx="1657" cy="8.6" r="3.9" fill="#f4f8ff" stroke="#2050c8" stroke-width="1.5"/>
<path d="M1675 12.5 a4.5 3.6 0 1 1 3.5 4.2 l-2.6 1.8 l.6 -2.6 a4 3.4 0 0 1 -1.5 -3.4z" fill="#f4f4f4" stroke="#b8b8b8" stroke-width="1"/>
<circle cx="1688" cy="8.6" r="8.2" fill="#e8281c"/>
<text x="1688" y="13.6" font-size="13.5" fill="#fff" text-anchor="middle">1</text>
</g>
<g shape-rendering="crispEdges"><rect x="1701" y="25" width="1" height="918" fill="#e3e3e3"/><rect x="1702" y="0" width="1" height="943" fill="#f0f0f0"/></g>
</svg></body></html>
